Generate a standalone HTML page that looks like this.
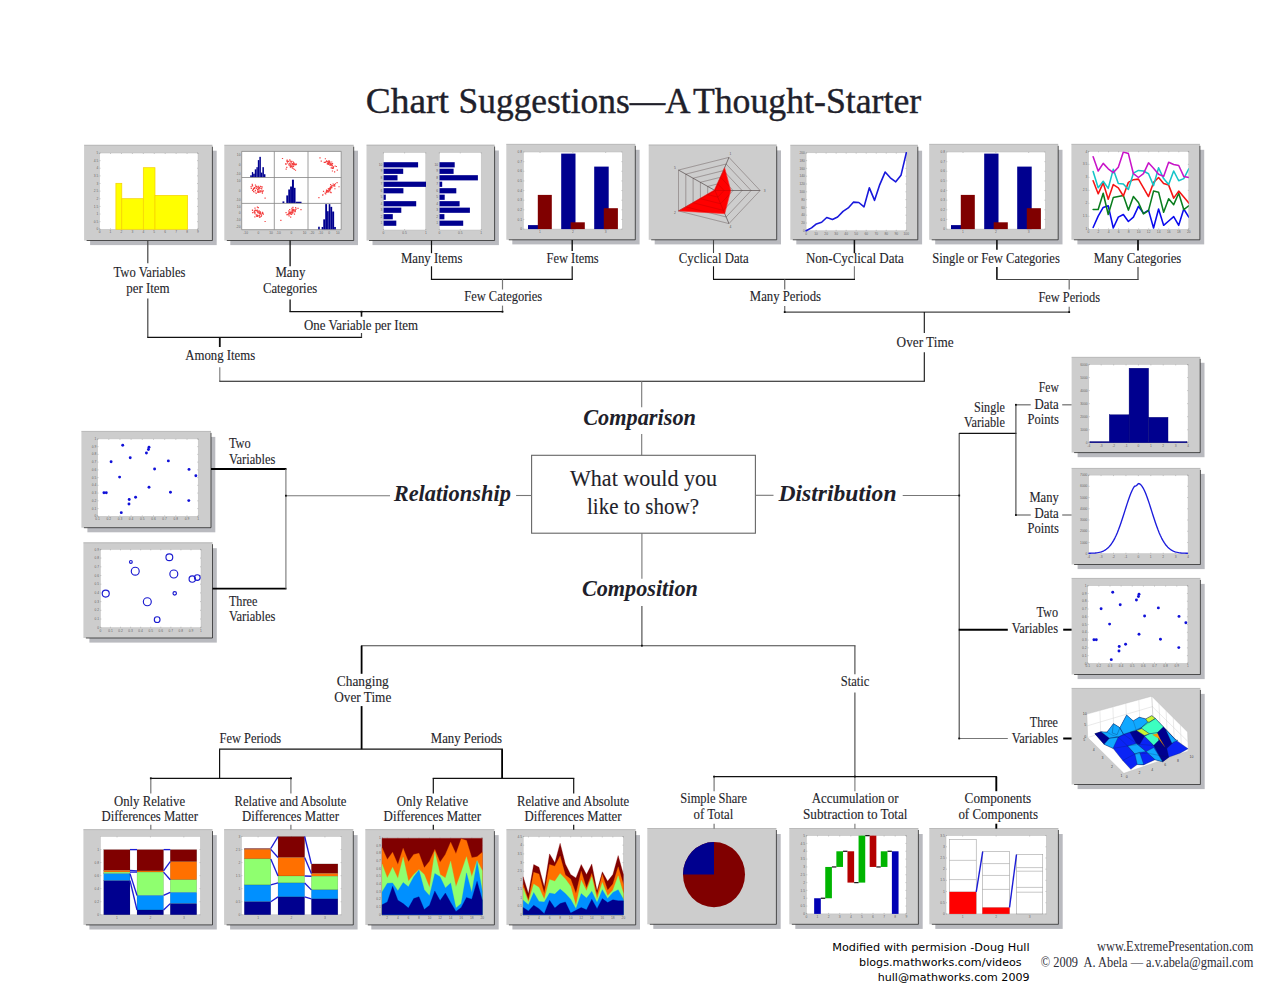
<!DOCTYPE html>
<html lang="en"><head><meta charset="utf-8"><title>Chart Suggestions—A Thought-Starter</title>
<style>html,body{margin:0;padding:0;background:#fff}body{width:1288px;height:995px;overflow:hidden}svg{display:block}text{white-space:pre}</style></head><body>
<svg width="1288" height="995" viewBox="0 0 1288 995">
<rect width="1288" height="995" fill="#fff"/>
<rect x="90.1" y="150.7" width="126.6" height="94.4" fill="#b9babf"/>
<rect x="84.1" y="145.2" width="128.3" height="95.3" fill="#cdcdcd"/>
<path d="M86.6 240.5H212.4V146.7" fill="none" stroke="#222" stroke-opacity=".75" stroke-width="1"/>
<path d="M84.1 145.2H212.4" fill="none" stroke="#8a8a8a" stroke-opacity=".6" stroke-width=".8"/>
<rect x="99.6" y="153" width="98.4" height="76.3" fill="#fff" stroke="#bdbdbd" stroke-width=".5"/>
<g font-family='"Liberation Sans", sans-serif' fill="#333" fill-opacity=".72">
<text x="99.6" y="233.2" text-anchor="middle" font-size="3.3">0</text>
<path d="M99.6 229.3v-1M99.6 153v1" stroke="#555" stroke-width=".4" stroke-opacity=".7"/>
<text x="110.53" y="233.2" text-anchor="middle" font-size="3.3">1</text>
<path d="M110.53 229.3v-1M110.53 153v1" stroke="#555" stroke-width=".4" stroke-opacity=".7"/>
<text x="121.47" y="233.2" text-anchor="middle" font-size="3.3">2</text>
<path d="M121.47 229.3v-1M121.47 153v1" stroke="#555" stroke-width=".4" stroke-opacity=".7"/>
<text x="132.4" y="233.2" text-anchor="middle" font-size="3.3">3</text>
<path d="M132.4 229.3v-1M132.4 153v1" stroke="#555" stroke-width=".4" stroke-opacity=".7"/>
<text x="143.33" y="233.2" text-anchor="middle" font-size="3.3">4</text>
<path d="M143.33 229.3v-1M143.33 153v1" stroke="#555" stroke-width=".4" stroke-opacity=".7"/>
<text x="154.27" y="233.2" text-anchor="middle" font-size="3.3">5</text>
<path d="M154.27 229.3v-1M154.27 153v1" stroke="#555" stroke-width=".4" stroke-opacity=".7"/>
<text x="165.2" y="233.2" text-anchor="middle" font-size="3.3">6</text>
<path d="M165.2 229.3v-1M165.2 153v1" stroke="#555" stroke-width=".4" stroke-opacity=".7"/>
<text x="176.13" y="233.2" text-anchor="middle" font-size="3.3">7</text>
<path d="M176.13 229.3v-1M176.13 153v1" stroke="#555" stroke-width=".4" stroke-opacity=".7"/>
<text x="187.07" y="233.2" text-anchor="middle" font-size="3.3">8</text>
<path d="M187.07 229.3v-1M187.07 153v1" stroke="#555" stroke-width=".4" stroke-opacity=".7"/>
<text x="198" y="233.2" text-anchor="middle" font-size="3.3">9</text>
<path d="M198 229.3v-1M198 153v1" stroke="#555" stroke-width=".4" stroke-opacity=".7"/>
<text x="98.4" y="230.4" text-anchor="end" font-size="3.3">0</text>
<path d="M99.6 229.3h1M198 229.3h-1" stroke="#555" stroke-width=".4" stroke-opacity=".7"/>
<text x="98.4" y="222.77" text-anchor="end" font-size="3.3">0.5</text>
<path d="M99.6 221.67h1M198 221.67h-1" stroke="#555" stroke-width=".4" stroke-opacity=".7"/>
<text x="98.4" y="215.14" text-anchor="end" font-size="3.3">1</text>
<path d="M99.6 214.04h1M198 214.04h-1" stroke="#555" stroke-width=".4" stroke-opacity=".7"/>
<text x="98.4" y="207.51" text-anchor="end" font-size="3.3">1.5</text>
<path d="M99.6 206.41h1M198 206.41h-1" stroke="#555" stroke-width=".4" stroke-opacity=".7"/>
<text x="98.4" y="199.88" text-anchor="end" font-size="3.3">2</text>
<path d="M99.6 198.78h1M198 198.78h-1" stroke="#555" stroke-width=".4" stroke-opacity=".7"/>
<text x="98.4" y="192.25" text-anchor="end" font-size="3.3">2.5</text>
<path d="M99.6 191.15h1M198 191.15h-1" stroke="#555" stroke-width=".4" stroke-opacity=".7"/>
<text x="98.4" y="184.62" text-anchor="end" font-size="3.3">3</text>
<path d="M99.6 183.52h1M198 183.52h-1" stroke="#555" stroke-width=".4" stroke-opacity=".7"/>
<text x="98.4" y="176.99" text-anchor="end" font-size="3.3">3.5</text>
<path d="M99.6 175.89h1M198 175.89h-1" stroke="#555" stroke-width=".4" stroke-opacity=".7"/>
<text x="98.4" y="169.36" text-anchor="end" font-size="3.3">4</text>
<path d="M99.6 168.26h1M198 168.26h-1" stroke="#555" stroke-width=".4" stroke-opacity=".7"/>
<text x="98.4" y="161.73" text-anchor="end" font-size="3.3">4.5</text>
<path d="M99.6 160.63h1M198 160.63h-1" stroke="#555" stroke-width=".4" stroke-opacity=".7"/>
<text x="98.4" y="154.1" text-anchor="end" font-size="3.3">5</text>
<path d="M99.6 153h1M198 153h-1" stroke="#555" stroke-width=".4" stroke-opacity=".7"/>
</g>
<rect x="115.9" y="183.3" width="5.9" height="46" fill="#ffff00" stroke="#f5cf00" stroke-width=".7"/>
<rect x="121.8" y="198.7" width="21.5" height="30.6" fill="#ffff00" stroke="#f5cf00" stroke-width=".7"/>
<rect x="143.3" y="167.7" width="11.7" height="61.6" fill="#ffff00" stroke="#f5cf00" stroke-width=".7"/>
<rect x="155" y="195.4" width="32.6" height="33.9" fill="#ffff00" stroke="#f5cf00" stroke-width=".7"/>
<rect x="230.3" y="150.7" width="127.7" height="94.4" fill="#b9babf"/>
<rect x="224.3" y="145.2" width="129.4" height="95.3" fill="#cdcdcd"/>
<path d="M226.8 240.5H353.7V146.7" fill="none" stroke="#222" stroke-opacity=".75" stroke-width="1"/>
<path d="M224.3 145.2H353.7" fill="none" stroke="#8a8a8a" stroke-opacity=".6" stroke-width=".8"/>
<rect x="241.7" y="151.4" width="99.5" height="78.3" fill="#fff"/>
<path d="M290.39 162.44h1.2v1.2h-1.2zM290.48 164.44h1.2v1.2h-1.2zM288.41 163.67h1.2v1.2h-1.2zM294.4 163.68h1.2v1.2h-1.2zM294.18 164.04h1.2v1.2h-1.2zM292.3 163.71h1.2v1.2h-1.2zM286.25 160.57h1.2v1.2h-1.2zM292.63 163.05h1.2v1.2h-1.2zM286.18 166.75h1.2v1.2h-1.2zM288.53 164.31h1.2v1.2h-1.2zM292.04 164.2h1.2v1.2h-1.2zM292.67 165.78h1.2v1.2h-1.2zM292.05 163.15h1.2v1.2h-1.2zM289.2 159.26h1.2v1.2h-1.2zM292.77 161.42h1.2v1.2h-1.2zM289.32 165.15h1.2v1.2h-1.2zM290.13 163.85h1.2v1.2h-1.2zM292.99 163.74h1.2v1.2h-1.2zM289.83 165.8h1.2v1.2h-1.2zM289.61 160.55h1.2v1.2h-1.2zM288.77 162.67h1.2v1.2h-1.2zM292.39 167.73h1.2v1.2h-1.2zM291.28 160.78h1.2v1.2h-1.2zM285.23 163.11h1.2v1.2h-1.2zM290.83 165.73h1.2v1.2h-1.2zM292.6 164.38h1.2v1.2h-1.2zM286.84 160.78h1.2v1.2h-1.2zM293.1 162.1h1.2v1.2h-1.2zM295.37 164.07h1.2v1.2h-1.2zM291.49 167.04h1.2v1.2h-1.2zM292.95 165.78h1.2v1.2h-1.2zM289.81 166.53h1.2v1.2h-1.2zM288.3 164.4h1.2v1.2h-1.2zM294.92 169.67h1.2v1.2h-1.2zM286.86 162.19h1.2v1.2h-1.2zM295.38 163.56h1.2v1.2h-1.2zM285.56 168.44h1.2v1.2h-1.2zM292.19 165.88h1.2v1.2h-1.2zM287.85 160.69h1.2v1.2h-1.2zM294.37 164.31h1.2v1.2h-1.2zM291.86 163h1.2v1.2h-1.2zM295.82 163.58h1.2v1.2h-1.2zM292.66 162.94h1.2v1.2h-1.2zM286.54 159.62h1.2v1.2h-1.2zM293.94 163.31h1.2v1.2h-1.2zM285.35 163.89h1.2v1.2h-1.2zM293.61 168.81h1.2v1.2h-1.2zM290.6 161.29h1.2v1.2h-1.2zM281.9 157.88h1.2v1.2h-1.2z" fill="#f01010" opacity=".8"/>
<path d="M324.79 158.15h1.2v1.2h-1.2zM330.26 164.39h1.2v1.2h-1.2zM329.59 162.4h1.2v1.2h-1.2zM328.99 161.09h1.2v1.2h-1.2zM326.7 163.27h1.2v1.2h-1.2zM331.7 164.69h1.2v1.2h-1.2zM326.06 160.13h1.2v1.2h-1.2zM332.94 166.26h1.2v1.2h-1.2zM324.59 161.7h1.2v1.2h-1.2zM328.2 163.73h1.2v1.2h-1.2zM332.76 167.39h1.2v1.2h-1.2zM332.34 167.69h1.2v1.2h-1.2zM326.33 160.91h1.2v1.2h-1.2zM331.95 163.07h1.2v1.2h-1.2zM329.65 163.49h1.2v1.2h-1.2zM329.09 162.32h1.2v1.2h-1.2zM328.12 162.49h1.2v1.2h-1.2zM330.32 164.1h1.2v1.2h-1.2zM330.88 163.18h1.2v1.2h-1.2zM334.54 165.4h1.2v1.2h-1.2zM327.38 163.5h1.2v1.2h-1.2zM328.6 161.37h1.2v1.2h-1.2zM327.65 162.04h1.2v1.2h-1.2zM334.03 171.19h1.2v1.2h-1.2zM325.34 161.26h1.2v1.2h-1.2zM329.81 163.36h1.2v1.2h-1.2zM327.37 161.35h1.2v1.2h-1.2zM329.47 164.79h1.2v1.2h-1.2zM335.77 165.91h1.2v1.2h-1.2zM327.01 162.76h1.2v1.2h-1.2zM327.98 163.13h1.2v1.2h-1.2zM320.63 160.58h1.2v1.2h-1.2zM331.6 167.14h1.2v1.2h-1.2zM328.44 161.23h1.2v1.2h-1.2zM331.15 161.38h1.2v1.2h-1.2zM323.65 161.71h1.2v1.2h-1.2zM327.64 161.54h1.2v1.2h-1.2zM331.84 170.42h1.2v1.2h-1.2zM331.83 167.83h1.2v1.2h-1.2zM330.64 167.37h1.2v1.2h-1.2zM329.16 161.06h1.2v1.2h-1.2zM328.2 162.71h1.2v1.2h-1.2zM330.98 164.11h1.2v1.2h-1.2zM328.38 159.99h1.2v1.2h-1.2zM331.72 165.37h1.2v1.2h-1.2zM336.7 169.48h1.2v1.2h-1.2zM331.32 165.13h1.2v1.2h-1.2zM329.03 162.02h1.2v1.2h-1.2zM319.4 157.33h1.2v1.2h-1.2z" fill="#f01010" opacity=".8"/>
<path d="M258.1 187.56h1.2v1.2h-1.2zM252.96 191.06h1.2v1.2h-1.2zM259.25 191.65h1.2v1.2h-1.2zM254.43 191.4h1.2v1.2h-1.2zM261.16 188.22h1.2v1.2h-1.2zM261.77 192.34h1.2v1.2h-1.2zM257.45 191.53h1.2v1.2h-1.2zM259.69 185.8h1.2v1.2h-1.2zM254.83 184.42h1.2v1.2h-1.2zM260.34 190.14h1.2v1.2h-1.2zM251.66 183.84h1.2v1.2h-1.2zM257.16 190.18h1.2v1.2h-1.2zM258.62 188.25h1.2v1.2h-1.2zM261.84 192.56h1.2v1.2h-1.2zM260.78 186.37h1.2v1.2h-1.2zM261.71 190.55h1.2v1.2h-1.2zM255.26 185.82h1.2v1.2h-1.2zM257.78 188.67h1.2v1.2h-1.2zM261.62 190.72h1.2v1.2h-1.2zM250.7 187.75h1.2v1.2h-1.2zM252 185.32h1.2v1.2h-1.2zM258.37 190.57h1.2v1.2h-1.2zM257.42 186.9h1.2v1.2h-1.2zM257.68 185.82h1.2v1.2h-1.2zM257.26 186.37h1.2v1.2h-1.2zM261.82 186.39h1.2v1.2h-1.2zM255.47 186.21h1.2v1.2h-1.2zM251.94 189.75h1.2v1.2h-1.2zM251.68 184.64h1.2v1.2h-1.2zM253.83 187.81h1.2v1.2h-1.2zM256.88 188.76h1.2v1.2h-1.2zM255.71 187.79h1.2v1.2h-1.2zM262.7 190.32h1.2v1.2h-1.2zM259 186.98h1.2v1.2h-1.2zM256.86 191.63h1.2v1.2h-1.2zM255.81 185.86h1.2v1.2h-1.2zM252.61 188.82h1.2v1.2h-1.2zM260.4 187.88h1.2v1.2h-1.2zM257.47 186.98h1.2v1.2h-1.2zM257.93 191.76h1.2v1.2h-1.2zM252.85 188.98h1.2v1.2h-1.2zM260.15 190.99h1.2v1.2h-1.2zM254.8 189.87h1.2v1.2h-1.2zM252.95 187.79h1.2v1.2h-1.2zM253.98 186.97h1.2v1.2h-1.2zM250.52 186.02h1.2v1.2h-1.2zM255.56 192.84h1.2v1.2h-1.2zM259.57 190.14h1.2v1.2h-1.2zM264.51 197.55h1.2v1.2h-1.2z" fill="#f01010" opacity=".8"/>
<path d="M322.09 194.48h1.2v1.2h-1.2zM329.49 189.07h1.2v1.2h-1.2zM330.93 186.16h1.2v1.2h-1.2zM330.59 187.07h1.2v1.2h-1.2zM332.55 185.26h1.2v1.2h-1.2zM329.96 191.46h1.2v1.2h-1.2zM331.27 185.01h1.2v1.2h-1.2zM327.77 190.19h1.2v1.2h-1.2zM334.33 188.13h1.2v1.2h-1.2zM330.02 183.97h1.2v1.2h-1.2zM325.92 189.46h1.2v1.2h-1.2zM334.18 185.52h1.2v1.2h-1.2zM330.29 186.31h1.2v1.2h-1.2zM325.98 190.7h1.2v1.2h-1.2zM329.5 186.94h1.2v1.2h-1.2zM328.54 189.24h1.2v1.2h-1.2zM325.66 191.36h1.2v1.2h-1.2zM331.26 187.02h1.2v1.2h-1.2zM326.14 191.85h1.2v1.2h-1.2zM336.47 181.97h1.2v1.2h-1.2zM330.51 191.95h1.2v1.2h-1.2zM330.46 186.9h1.2v1.2h-1.2zM333.58 184.99h1.2v1.2h-1.2zM328.44 188.12h1.2v1.2h-1.2zM322.93 190.79h1.2v1.2h-1.2zM329.59 189.41h1.2v1.2h-1.2zM332.53 183.38h1.2v1.2h-1.2zM324.52 192.59h1.2v1.2h-1.2zM329.49 188.01h1.2v1.2h-1.2zM327.47 191.21h1.2v1.2h-1.2zM334.86 183.17h1.2v1.2h-1.2zM325.13 193.32h1.2v1.2h-1.2zM333.64 184.03h1.2v1.2h-1.2zM333.98 184.1h1.2v1.2h-1.2zM326.08 190.06h1.2v1.2h-1.2zM322.3 194.14h1.2v1.2h-1.2zM328.47 188.1h1.2v1.2h-1.2zM326.5 190.43h1.2v1.2h-1.2zM329.98 187.37h1.2v1.2h-1.2zM330.51 187.31h1.2v1.2h-1.2zM327.69 188.16h1.2v1.2h-1.2zM328.78 190.13h1.2v1.2h-1.2zM326.8 190.03h1.2v1.2h-1.2zM328.32 188.8h1.2v1.2h-1.2zM328.64 188.57h1.2v1.2h-1.2zM328.25 191.19h1.2v1.2h-1.2zM329.88 186.32h1.2v1.2h-1.2zM329.91 188.35h1.2v1.2h-1.2zM318.31 197.01h1.2v1.2h-1.2zM338.42 186.14h1.2v1.2h-1.2z" fill="#f01010" opacity=".8"/>
<path d="M258.75 214.86h1.2v1.2h-1.2zM251.88 209.49h1.2v1.2h-1.2zM254.71 209.4h1.2v1.2h-1.2zM254.26 216.22h1.2v1.2h-1.2zM254.39 207.5h1.2v1.2h-1.2zM256.32 214.56h1.2v1.2h-1.2zM255.2 210.09h1.2v1.2h-1.2zM258.9 212.54h1.2v1.2h-1.2zM261.8 212.79h1.2v1.2h-1.2zM257.38 210.95h1.2v1.2h-1.2zM262.3 212.47h1.2v1.2h-1.2zM260.45 215.89h1.2v1.2h-1.2zM257.01 210.5h1.2v1.2h-1.2zM256.57 209.59h1.2v1.2h-1.2zM259.19 211.15h1.2v1.2h-1.2zM256.82 206.62h1.2v1.2h-1.2zM261.08 214.38h1.2v1.2h-1.2zM257.71 206.93h1.2v1.2h-1.2zM256.44 209.93h1.2v1.2h-1.2zM260.32 213.56h1.2v1.2h-1.2zM254.02 210.23h1.2v1.2h-1.2zM258.5 210.36h1.2v1.2h-1.2zM259.74 213.25h1.2v1.2h-1.2zM259.95 212.27h1.2v1.2h-1.2zM258.05 212.39h1.2v1.2h-1.2zM256.73 210.46h1.2v1.2h-1.2zM254.35 212.09h1.2v1.2h-1.2zM257.46 215.29h1.2v1.2h-1.2zM256.16 215.82h1.2v1.2h-1.2zM255.44 210.1h1.2v1.2h-1.2zM259.11 213.12h1.2v1.2h-1.2zM256.76 214.87h1.2v1.2h-1.2zM262.81 213.66h1.2v1.2h-1.2zM260.65 215.57h1.2v1.2h-1.2zM256.9 215.77h1.2v1.2h-1.2zM259.73 211.35h1.2v1.2h-1.2zM251.88 209.73h1.2v1.2h-1.2zM259.29 216.77h1.2v1.2h-1.2zM252.09 211.94h1.2v1.2h-1.2zM255.6 214.29h1.2v1.2h-1.2zM257.54 211.75h1.2v1.2h-1.2zM259.3 211.63h1.2v1.2h-1.2zM261.85 211.86h1.2v1.2h-1.2zM253.59 211.48h1.2v1.2h-1.2zM254.33 213.02h1.2v1.2h-1.2zM257.2 212.1h1.2v1.2h-1.2zM258.88 216.21h1.2v1.2h-1.2zM253.81 210.57h1.2v1.2h-1.2zM264.51 220.92h1.2v1.2h-1.2z" fill="#f01010" opacity=".8"/>
<path d="M290.01 212.57h1.2v1.2h-1.2zM290.41 213.06h1.2v1.2h-1.2zM292.65 209.78h1.2v1.2h-1.2zM290.34 212.96h1.2v1.2h-1.2zM290.08 216.51h1.2v1.2h-1.2zM287.72 213.46h1.2v1.2h-1.2zM286.18 214.17h1.2v1.2h-1.2zM291.03 213.68h1.2v1.2h-1.2zM289.86 212.67h1.2v1.2h-1.2zM291.95 209.81h1.2v1.2h-1.2zM290.49 213.16h1.2v1.2h-1.2zM290.17 212.06h1.2v1.2h-1.2zM292.75 209.82h1.2v1.2h-1.2zM288.48 215.28h1.2v1.2h-1.2zM289.5 213.61h1.2v1.2h-1.2zM287.33 213.96h1.2v1.2h-1.2zM289.15 212.43h1.2v1.2h-1.2zM292.13 211.38h1.2v1.2h-1.2zM297.42 207.86h1.2v1.2h-1.2zM293.83 209.42h1.2v1.2h-1.2zM293.87 213.52h1.2v1.2h-1.2zM288.39 212.68h1.2v1.2h-1.2zM292.36 206.69h1.2v1.2h-1.2zM291.54 208.96h1.2v1.2h-1.2zM292.84 208.68h1.2v1.2h-1.2zM292.09 210.98h1.2v1.2h-1.2zM292.09 212.51h1.2v1.2h-1.2zM294.06 211.15h1.2v1.2h-1.2zM291.33 207.71h1.2v1.2h-1.2zM289.94 212.07h1.2v1.2h-1.2zM294.01 209.46h1.2v1.2h-1.2zM288.23 212.77h1.2v1.2h-1.2zM292.3 209.42h1.2v1.2h-1.2zM288.33 210.23h1.2v1.2h-1.2zM295.49 208.53h1.2v1.2h-1.2zM291.38 211.89h1.2v1.2h-1.2zM294.75 210.2h1.2v1.2h-1.2zM292.57 211.21h1.2v1.2h-1.2zM288.56 211.8h1.2v1.2h-1.2zM294.51 209.2h1.2v1.2h-1.2zM288.61 211.61h1.2v1.2h-1.2zM290.45 211.26h1.2v1.2h-1.2zM295.06 206.96h1.2v1.2h-1.2zM289.07 208.88h1.2v1.2h-1.2zM290.61 210.38h1.2v1.2h-1.2zM288.7 212.97h1.2v1.2h-1.2zM285.46 212.01h1.2v1.2h-1.2zM294.6 211.13h1.2v1.2h-1.2zM280.27 219.83h1.2v1.2h-1.2zM300.38 208.97h1.2v1.2h-1.2z" fill="#f01010" opacity=".8"/>
<rect x="250.22" y="175.33" width="1.63" height="1.96" fill="#00008f"/>
<rect x="251.85" y="172.07" width="1.3" height="5.22" fill="#00008f"/>
<rect x="253.15" y="173.7" width="1.63" height="3.59" fill="#00008f"/>
<rect x="254.78" y="169.35" width="1.63" height="7.93" fill="#00008f"/>
<rect x="256.41" y="167.17" width="1.41" height="10.11" fill="#00008f"/>
<rect x="257.83" y="160.11" width="1.52" height="17.17" fill="#00008f"/>
<rect x="259.35" y="156.85" width="1.52" height="20.43" fill="#00008f"/>
<rect x="260.87" y="172.61" width="1.52" height="4.67" fill="#00008f"/>
<rect x="262.39" y="167.17" width="1.52" height="10.11" fill="#00008f"/>
<rect x="263.91" y="174.24" width="1.52" height="3.04" fill="#00008f"/>
<rect x="282.5" y="201.41" width="1.85" height="1.74" fill="#00008f"/>
<rect x="286.3" y="195.43" width="1.96" height="7.72" fill="#00008f"/>
<rect x="288.26" y="189.46" width="1.85" height="13.7" fill="#00008f"/>
<rect x="290.11" y="186.52" width="1.85" height="16.63" fill="#00008f"/>
<rect x="291.96" y="179.67" width="1.96" height="23.48" fill="#00008f"/>
<rect x="293.91" y="187.83" width="1.63" height="15.33" fill="#00008f"/>
<rect x="295.54" y="201.74" width="5.98" height="1.41" fill="#00008f"/>
<rect x="318.15" y="226.74" width="1.63" height="2.93" fill="#00008f"/>
<rect x="321.63" y="226.96" width="1.63" height="2.72" fill="#00008f"/>
<rect x="323.26" y="219.35" width="1.96" height="10.33" fill="#00008f"/>
<rect x="325.22" y="204.13" width="1.85" height="25.54" fill="#00008f"/>
<rect x="327.07" y="211.2" width="1.63" height="18.48" fill="#00008f"/>
<rect x="328.7" y="204.13" width="1.63" height="25.54" fill="#00008f"/>
<rect x="330.33" y="206.85" width="1.85" height="22.83" fill="#00008f"/>
<rect x="332.17" y="211.52" width="1.96" height="18.15" fill="#00008f"/>
<rect x="334.13" y="226.96" width="1.74" height="2.72" fill="#00008f"/>
<line x1="241.7" y1="151.4" x2="241.7" y2="229.7" stroke="#858585" stroke-width="0.8"/>
<line x1="274.3" y1="151.4" x2="274.3" y2="229.7" stroke="#858585" stroke-width="0.8"/>
<line x1="308" y1="151.4" x2="308" y2="229.7" stroke="#858585" stroke-width="0.8"/>
<line x1="341.2" y1="151.4" x2="341.2" y2="229.7" stroke="#858585" stroke-width="0.8"/>
<line x1="241.7" y1="151.4" x2="341.2" y2="151.4" stroke="#858585" stroke-width="0.8"/>
<line x1="241.7" y1="177.5" x2="341.2" y2="177.5" stroke="#858585" stroke-width="0.8"/>
<line x1="241.7" y1="203.4" x2="341.2" y2="203.4" stroke="#858585" stroke-width="0.8"/>
<line x1="241.7" y1="229.7" x2="341.2" y2="229.7" stroke="#858585" stroke-width="0.8"/>
<g font-family='"Liberation Sans", sans-serif' fill="#333" fill-opacity=".72">
<text x="240.5" y="155.63" text-anchor="end" font-size="3.3">10</text>
<text x="240.5" y="165.55" text-anchor="end" font-size="3.3">0</text>
<text x="240.5" y="175.47" text-anchor="end" font-size="3.3">-10</text>
<text x="245.61" y="233.6" text-anchor="middle" font-size="3.3">-10</text>
<text x="258.33" y="233.6" text-anchor="middle" font-size="3.3">0</text>
<text x="271.04" y="233.6" text-anchor="middle" font-size="3.3">10</text>
<text x="240.5" y="181.71" text-anchor="end" font-size="3.3">10</text>
<text x="240.5" y="191.55" text-anchor="end" font-size="3.3">0</text>
<text x="240.5" y="201.39" text-anchor="end" font-size="3.3">-10</text>
<text x="278.34" y="233.6" text-anchor="middle" font-size="3.3">-10</text>
<text x="291.49" y="233.6" text-anchor="middle" font-size="3.3">0</text>
<text x="304.63" y="233.6" text-anchor="middle" font-size="3.3">10</text>
<text x="240.5" y="207.66" text-anchor="end" font-size="3.3">10</text>
<text x="240.5" y="214.32" text-anchor="end" font-size="3.3">0</text>
<text x="240.5" y="220.98" text-anchor="end" font-size="3.3">-10</text>
<text x="240.5" y="227.64" text-anchor="end" font-size="3.3">-20</text>
<text x="311.98" y="233.6" text-anchor="middle" font-size="3.3">-20</text>
<text x="320.62" y="233.6" text-anchor="middle" font-size="3.3">-10</text>
<text x="329.25" y="233.6" text-anchor="middle" font-size="3.3">0</text>
<text x="337.88" y="233.6" text-anchor="middle" font-size="3.3">10</text>
</g>
<rect x="372.5" y="150.5" width="126.4" height="94.6" fill="#b9babf"/>
<rect x="366.5" y="145" width="128.1" height="95.5" fill="#cdcdcd"/>
<path d="M369 240.5H494.6V146.5" fill="none" stroke="#222" stroke-opacity=".75" stroke-width="1"/>
<path d="M366.5 145H494.6" fill="none" stroke="#8a8a8a" stroke-opacity=".6" stroke-width=".8"/>
<rect x="383.4" y="152.5" width="42.4" height="77.5" fill="#fff" stroke="#bdbdbd" stroke-width=".5"/>
<g font-family='"Liberation Sans", sans-serif' fill="#333" fill-opacity=".72">
<text x="383.4" y="233.9" text-anchor="middle" font-size="3.3">0</text>
<path d="M383.4 230v-1M383.4 152.5v1" stroke="#555" stroke-width=".4" stroke-opacity=".7"/>
<text x="404.6" y="233.9" text-anchor="middle" font-size="3.3">0.5</text>
<path d="M404.6 230v-1M404.6 152.5v1" stroke="#555" stroke-width=".4" stroke-opacity=".7"/>
<text x="425.8" y="233.9" text-anchor="middle" font-size="3.3">1</text>
<path d="M425.8 230v-1M425.8 152.5v1" stroke="#555" stroke-width=".4" stroke-opacity=".7"/>
</g>
<rect x="439.3" y="152.5" width="41.9" height="77.5" fill="#fff" stroke="#bdbdbd" stroke-width=".5"/>
<g font-family='"Liberation Sans", sans-serif' fill="#333" fill-opacity=".72">
<text x="439.3" y="233.9" text-anchor="middle" font-size="3.3">0</text>
<path d="M439.3 230v-1M439.3 152.5v1" stroke="#555" stroke-width=".4" stroke-opacity=".7"/>
<text x="460.25" y="233.9" text-anchor="middle" font-size="3.3">0.5</text>
<path d="M460.25 230v-1M460.25 152.5v1" stroke="#555" stroke-width=".4" stroke-opacity=".7"/>
<text x="481.2" y="233.9" text-anchor="middle" font-size="3.3">1</text>
<path d="M481.2 230v-1M481.2 152.5v1" stroke="#555" stroke-width=".4" stroke-opacity=".7"/>
</g>
<rect x="383.6" y="162.2" width="34.5" height="5.2" fill="#00008f"/>
<rect x="439.5" y="162.2" width="15.2" height="5.2" fill="#00008f"/>
<text x="382.3" y="165.9" text-anchor="end" font-size="3.3" font-family="Liberation Sans, sans-serif" fill="#3a3a3a" fill-opacity=".8">10</text>
<text x="438.2" y="165.9" text-anchor="end" font-size="3.3" font-family="Liberation Sans, sans-serif" fill="#3a3a3a" fill-opacity=".8">10</text>
<rect x="383.6" y="168.69" width="19.6" height="5.2" fill="#00008f"/>
<rect x="439.5" y="168.69" width="14.1" height="5.2" fill="#00008f"/>
<text x="382.3" y="172.39" text-anchor="end" font-size="3.3" font-family="Liberation Sans, sans-serif" fill="#3a3a3a" fill-opacity=".8">9</text>
<text x="438.2" y="172.39" text-anchor="end" font-size="3.3" font-family="Liberation Sans, sans-serif" fill="#3a3a3a" fill-opacity=".8">9</text>
<rect x="383.6" y="175.18" width="13.9" height="5.2" fill="#00008f"/>
<rect x="439.5" y="175.18" width="38.4" height="5.2" fill="#00008f"/>
<text x="382.3" y="178.88" text-anchor="end" font-size="3.3" font-family="Liberation Sans, sans-serif" fill="#3a3a3a" fill-opacity=".8">8</text>
<text x="438.2" y="178.88" text-anchor="end" font-size="3.3" font-family="Liberation Sans, sans-serif" fill="#3a3a3a" fill-opacity=".8">8</text>
<rect x="383.6" y="181.67" width="42.4" height="5.2" fill="#00008f"/>
<rect x="439.5" y="181.67" width="2.7" height="5.2" fill="#00008f"/>
<text x="382.3" y="185.37" text-anchor="end" font-size="3.3" font-family="Liberation Sans, sans-serif" fill="#3a3a3a" fill-opacity=".8">7</text>
<text x="438.2" y="185.37" text-anchor="end" font-size="3.3" font-family="Liberation Sans, sans-serif" fill="#3a3a3a" fill-opacity=".8">7</text>
<rect x="383.6" y="188.16" width="19.8" height="5.2" fill="#00008f"/>
<rect x="439.5" y="188.16" width="16.8" height="5.2" fill="#00008f"/>
<text x="382.3" y="191.86" text-anchor="end" font-size="3.3" font-family="Liberation Sans, sans-serif" fill="#3a3a3a" fill-opacity=".8">6</text>
<text x="438.2" y="191.86" text-anchor="end" font-size="3.3" font-family="Liberation Sans, sans-serif" fill="#3a3a3a" fill-opacity=".8">6</text>
<rect x="383.6" y="194.65" width="2.2" height="5.2" fill="#00008f"/>
<rect x="439.5" y="194.65" width="5.2" height="5.2" fill="#00008f"/>
<text x="382.3" y="198.35" text-anchor="end" font-size="3.3" font-family="Liberation Sans, sans-serif" fill="#3a3a3a" fill-opacity=".8">5</text>
<text x="438.2" y="198.35" text-anchor="end" font-size="3.3" font-family="Liberation Sans, sans-serif" fill="#3a3a3a" fill-opacity=".8">5</text>
<rect x="383.6" y="201.14" width="32.6" height="5.2" fill="#00008f"/>
<rect x="439.5" y="201.14" width="20.1" height="5.2" fill="#00008f"/>
<text x="382.3" y="204.84" text-anchor="end" font-size="3.3" font-family="Liberation Sans, sans-serif" fill="#3a3a3a" fill-opacity=".8">4</text>
<text x="438.2" y="204.84" text-anchor="end" font-size="3.3" font-family="Liberation Sans, sans-serif" fill="#3a3a3a" fill-opacity=".8">4</text>
<rect x="383.6" y="207.63" width="17.7" height="5.2" fill="#00008f"/>
<rect x="439.5" y="207.63" width="30.4" height="5.2" fill="#00008f"/>
<text x="382.3" y="211.33" text-anchor="end" font-size="3.3" font-family="Liberation Sans, sans-serif" fill="#3a3a3a" fill-opacity=".8">3</text>
<text x="438.2" y="211.33" text-anchor="end" font-size="3.3" font-family="Liberation Sans, sans-serif" fill="#3a3a3a" fill-opacity=".8">3</text>
<rect x="383.6" y="214.12" width="9.2" height="5.2" fill="#00008f"/>
<rect x="439.5" y="214.12" width="4.9" height="5.2" fill="#00008f"/>
<text x="382.3" y="217.82" text-anchor="end" font-size="3.3" font-family="Liberation Sans, sans-serif" fill="#3a3a3a" fill-opacity=".8">2</text>
<text x="438.2" y="217.82" text-anchor="end" font-size="3.3" font-family="Liberation Sans, sans-serif" fill="#3a3a3a" fill-opacity=".8">2</text>
<rect x="383.6" y="220.61" width="12.7" height="5.2" fill="#00008f"/>
<rect x="439.5" y="220.61" width="23.7" height="5.2" fill="#00008f"/>
<text x="382.3" y="224.31" text-anchor="end" font-size="3.3" font-family="Liberation Sans, sans-serif" fill="#3a3a3a" fill-opacity=".8">1</text>
<text x="438.2" y="224.31" text-anchor="end" font-size="3.3" font-family="Liberation Sans, sans-serif" fill="#3a3a3a" fill-opacity=".8">1</text>
<rect x="512.3" y="149.8" width="127.3" height="94.6" fill="#b9babf"/>
<rect x="506.3" y="144.3" width="129" height="95.5" fill="#cdcdcd"/>
<path d="M508.8 239.8H635.3V145.8" fill="none" stroke="#222" stroke-opacity=".75" stroke-width="1"/>
<path d="M506.3 144.3H635.3" fill="none" stroke="#8a8a8a" stroke-opacity=".6" stroke-width=".8"/>
<rect x="523.4" y="152" width="98.9" height="77.1" fill="#fff" stroke="#bdbdbd" stroke-width=".5"/>
<g font-family='"Liberation Sans", sans-serif' fill="#333" fill-opacity=".72">
<text x="540.02" y="233" text-anchor="middle" font-size="3.3">1</text>
<path d="M540.02 229.1v-1M540.02 152v1" stroke="#555" stroke-width=".4" stroke-opacity=".7"/>
<text x="572.85" y="233" text-anchor="middle" font-size="3.3">2</text>
<path d="M572.85 229.1v-1M572.85 152v1" stroke="#555" stroke-width=".4" stroke-opacity=".7"/>
<text x="605.68" y="233" text-anchor="middle" font-size="3.3">3</text>
<path d="M605.68 229.1v-1M605.68 152v1" stroke="#555" stroke-width=".4" stroke-opacity=".7"/>
<text x="522.2" y="230.2" text-anchor="end" font-size="3.3">0</text>
<path d="M523.4 229.1h1M622.3 229.1h-1" stroke="#555" stroke-width=".4" stroke-opacity=".7"/>
<text x="522.2" y="220.56" text-anchor="end" font-size="3.3">0.1</text>
<path d="M523.4 219.46h1M622.3 219.46h-1" stroke="#555" stroke-width=".4" stroke-opacity=".7"/>
<text x="522.2" y="210.92" text-anchor="end" font-size="3.3">0.2</text>
<path d="M523.4 209.82h1M622.3 209.82h-1" stroke="#555" stroke-width=".4" stroke-opacity=".7"/>
<text x="522.2" y="201.29" text-anchor="end" font-size="3.3">0.3</text>
<path d="M523.4 200.19h1M622.3 200.19h-1" stroke="#555" stroke-width=".4" stroke-opacity=".7"/>
<text x="522.2" y="191.65" text-anchor="end" font-size="3.3">0.4</text>
<path d="M523.4 190.55h1M622.3 190.55h-1" stroke="#555" stroke-width=".4" stroke-opacity=".7"/>
<text x="522.2" y="182.01" text-anchor="end" font-size="3.3">0.5</text>
<path d="M523.4 180.91h1M622.3 180.91h-1" stroke="#555" stroke-width=".4" stroke-opacity=".7"/>
<text x="522.2" y="172.38" text-anchor="end" font-size="3.3">0.6</text>
<path d="M523.4 171.28h1M622.3 171.28h-1" stroke="#555" stroke-width=".4" stroke-opacity=".7"/>
<text x="522.2" y="162.74" text-anchor="end" font-size="3.3">0.7</text>
<path d="M523.4 161.64h1M622.3 161.64h-1" stroke="#555" stroke-width=".4" stroke-opacity=".7"/>
<text x="522.2" y="153.1" text-anchor="end" font-size="3.3">0.8</text>
<path d="M523.4 152h1M622.3 152h-1" stroke="#555" stroke-width=".4" stroke-opacity=".7"/>
</g>
<rect x="528" y="225.1" width="10" height="4" fill="#00008f"/>
<rect x="561.2" y="153.6" width="14.3" height="75.5" fill="#00008f"/>
<rect x="594.2" y="166.6" width="14.5" height="62.5" fill="#00008f"/>
<rect x="537.8" y="194.9" width="14" height="34.2" fill="#800000"/>
<rect x="570.7" y="222.3" width="14.1" height="6.8" fill="#800000"/>
<rect x="603.8" y="208.2" width="14.1" height="20.9" fill="#800000"/>
<rect x="654.7" y="150.4" width="126.3" height="94" fill="#b9babf"/>
<rect x="648.7" y="144.9" width="128" height="94.9" fill="#cdcdcd"/>
<path d="M651.2 239.8H776.7V146.4" fill="none" stroke="#222" stroke-opacity=".75" stroke-width="1"/>
<path d="M648.7 144.9H776.7" fill="none" stroke="#8a8a8a" stroke-opacity=".6" stroke-width=".8"/>
<polygon points="724.02,190.5 717.79,183.88 707.7,186.41 707.7,194.59 717.79,197.12" fill="none" stroke="#555" stroke-width=".4" opacity=".65"/>
<polygon points="733.04,190.5 720.57,177.26 700.41,182.32 700.41,198.68 720.57,203.74" fill="none" stroke="#555" stroke-width=".4" opacity=".65"/>
<polygon points="742.06,190.5 723.36,170.64 693.11,178.23 693.11,202.77 723.36,210.36" fill="none" stroke="#555" stroke-width=".4" opacity=".65"/>
<polygon points="751.08,190.5 726.15,164.02 685.81,174.14 685.81,206.86 726.15,216.98" fill="none" stroke="#555" stroke-width=".4" opacity=".65"/>
<polygon points="760.1,190.5 728.94,157.4 678.51,170.05 678.51,210.95 728.94,223.6" fill="none" stroke="#555" stroke-width=".4" opacity=".65"/>
<line x1="715" y1="190.5" x2="760.1" y2="190.5" stroke="#444" stroke-width="0.5"/>
<line x1="715" y1="190.5" x2="728.94" y2="157.4" stroke="#444" stroke-width="0.5"/>
<line x1="715" y1="190.5" x2="678.51" y2="170.05" stroke="#444" stroke-width="0.5"/>
<line x1="715" y1="190.5" x2="678.51" y2="210.95" stroke="#444" stroke-width="0.5"/>
<line x1="715" y1="190.5" x2="728.94" y2="223.6" stroke="#444" stroke-width="0.5"/>
<polygon points="730.78,190.5 724.62,167.66 714.27,190.09 678.51,210.95 724.76,213.67" fill="#ff0000" stroke="#ff3030" stroke-width=".6"/>
<g opacity=".28">
<polygon points="724.02,190.5 717.79,183.88 707.7,186.41 707.7,194.59 717.79,197.12" fill="none" stroke="#300" stroke-width=".45"/>
<polygon points="733.04,190.5 720.57,177.26 700.41,182.32 700.41,198.68 720.57,203.74" fill="none" stroke="#300" stroke-width=".45"/>
<polygon points="742.06,190.5 723.36,170.64 693.11,178.23 693.11,202.77 723.36,210.36" fill="none" stroke="#300" stroke-width=".45"/>
<polygon points="751.08,190.5 726.15,164.02 685.81,174.14 685.81,206.86 726.15,216.98" fill="none" stroke="#300" stroke-width=".45"/>
<polygon points="760.1,190.5 728.94,157.4 678.51,170.05 678.51,210.95 728.94,223.6" fill="none" stroke="#300" stroke-width=".45"/>
<line x1="715" y1="190.5" x2="760.1" y2="190.5" stroke="#300" stroke-width="0.5"/>
<line x1="715" y1="190.5" x2="728.94" y2="157.4" stroke="#300" stroke-width="0.5"/>
<line x1="715" y1="190.5" x2="678.51" y2="170.05" stroke="#300" stroke-width="0.5"/>
<line x1="715" y1="190.5" x2="678.51" y2="210.95" stroke="#300" stroke-width="0.5"/>
<line x1="715" y1="190.5" x2="728.94" y2="223.6" stroke="#300" stroke-width="0.5"/>
</g>
<text x="764.61" y="191.6" text-anchor="middle" font-size="3.3" font-family="Liberation Sans, sans-serif" fill="#333" fill-opacity=".8">3</text>
<text x="730.33" y="155.19" text-anchor="middle" font-size="3.3" font-family="Liberation Sans, sans-serif" fill="#333" fill-opacity=".8">1</text>
<text x="674.86" y="169.1" text-anchor="middle" font-size="3.3" font-family="Liberation Sans, sans-serif" fill="#333" fill-opacity=".8">5</text>
<text x="674.86" y="214.1" text-anchor="middle" font-size="3.3" font-family="Liberation Sans, sans-serif" fill="#333" fill-opacity=".8">2</text>
<text x="730.33" y="228.01" text-anchor="middle" font-size="3.3" font-family="Liberation Sans, sans-serif" fill="#333" fill-opacity=".8">4</text>
<rect x="796.3" y="150.7" width="125.8" height="93.7" fill="#b9babf"/>
<rect x="790.3" y="145.2" width="127.5" height="94.6" fill="#cdcdcd"/>
<path d="M792.8 239.8H917.8V146.7" fill="none" stroke="#222" stroke-opacity=".75" stroke-width="1"/>
<path d="M790.3 145.2H917.8" fill="none" stroke="#8a8a8a" stroke-opacity=".6" stroke-width=".8"/>
<rect x="806.1" y="152.8" width="100.2" height="78" fill="#fff" stroke="#bdbdbd" stroke-width=".5"/>
<g font-family='"Liberation Sans", sans-serif' fill="#333" fill-opacity=".72">
<text x="806.1" y="234.7" text-anchor="middle" font-size="3.3">0</text>
<path d="M806.1 230.8v-1M806.1 152.8v1" stroke="#555" stroke-width=".4" stroke-opacity=".7"/>
<text x="816.12" y="234.7" text-anchor="middle" font-size="3.3">10</text>
<path d="M816.12 230.8v-1M816.12 152.8v1" stroke="#555" stroke-width=".4" stroke-opacity=".7"/>
<text x="826.14" y="234.7" text-anchor="middle" font-size="3.3">20</text>
<path d="M826.14 230.8v-1M826.14 152.8v1" stroke="#555" stroke-width=".4" stroke-opacity=".7"/>
<text x="836.16" y="234.7" text-anchor="middle" font-size="3.3">30</text>
<path d="M836.16 230.8v-1M836.16 152.8v1" stroke="#555" stroke-width=".4" stroke-opacity=".7"/>
<text x="846.18" y="234.7" text-anchor="middle" font-size="3.3">40</text>
<path d="M846.18 230.8v-1M846.18 152.8v1" stroke="#555" stroke-width=".4" stroke-opacity=".7"/>
<text x="856.2" y="234.7" text-anchor="middle" font-size="3.3">50</text>
<path d="M856.2 230.8v-1M856.2 152.8v1" stroke="#555" stroke-width=".4" stroke-opacity=".7"/>
<text x="866.22" y="234.7" text-anchor="middle" font-size="3.3">60</text>
<path d="M866.22 230.8v-1M866.22 152.8v1" stroke="#555" stroke-width=".4" stroke-opacity=".7"/>
<text x="876.24" y="234.7" text-anchor="middle" font-size="3.3">70</text>
<path d="M876.24 230.8v-1M876.24 152.8v1" stroke="#555" stroke-width=".4" stroke-opacity=".7"/>
<text x="886.26" y="234.7" text-anchor="middle" font-size="3.3">80</text>
<path d="M886.26 230.8v-1M886.26 152.8v1" stroke="#555" stroke-width=".4" stroke-opacity=".7"/>
<text x="896.28" y="234.7" text-anchor="middle" font-size="3.3">90</text>
<path d="M896.28 230.8v-1M896.28 152.8v1" stroke="#555" stroke-width=".4" stroke-opacity=".7"/>
<text x="906.3" y="234.7" text-anchor="middle" font-size="3.3">100</text>
<path d="M906.3 230.8v-1M906.3 152.8v1" stroke="#555" stroke-width=".4" stroke-opacity=".7"/>
<text x="804.9" y="231.9" text-anchor="end" font-size="3.3">0</text>
<path d="M806.1 230.8h1M906.3 230.8h-1" stroke="#555" stroke-width=".4" stroke-opacity=".7"/>
<text x="804.9" y="224.1" text-anchor="end" font-size="3.3">20</text>
<path d="M806.1 223h1M906.3 223h-1" stroke="#555" stroke-width=".4" stroke-opacity=".7"/>
<text x="804.9" y="216.3" text-anchor="end" font-size="3.3">40</text>
<path d="M806.1 215.2h1M906.3 215.2h-1" stroke="#555" stroke-width=".4" stroke-opacity=".7"/>
<text x="804.9" y="208.5" text-anchor="end" font-size="3.3">60</text>
<path d="M806.1 207.4h1M906.3 207.4h-1" stroke="#555" stroke-width=".4" stroke-opacity=".7"/>
<text x="804.9" y="200.7" text-anchor="end" font-size="3.3">80</text>
<path d="M806.1 199.6h1M906.3 199.6h-1" stroke="#555" stroke-width=".4" stroke-opacity=".7"/>
<text x="804.9" y="192.9" text-anchor="end" font-size="3.3">100</text>
<path d="M806.1 191.8h1M906.3 191.8h-1" stroke="#555" stroke-width=".4" stroke-opacity=".7"/>
<text x="804.9" y="185.1" text-anchor="end" font-size="3.3">120</text>
<path d="M806.1 184h1M906.3 184h-1" stroke="#555" stroke-width=".4" stroke-opacity=".7"/>
<text x="804.9" y="177.3" text-anchor="end" font-size="3.3">140</text>
<path d="M806.1 176.2h1M906.3 176.2h-1" stroke="#555" stroke-width=".4" stroke-opacity=".7"/>
<text x="804.9" y="169.5" text-anchor="end" font-size="3.3">160</text>
<path d="M806.1 168.4h1M906.3 168.4h-1" stroke="#555" stroke-width=".4" stroke-opacity=".7"/>
<text x="804.9" y="161.7" text-anchor="end" font-size="3.3">180</text>
<path d="M806.1 160.6h1M906.3 160.6h-1" stroke="#555" stroke-width=".4" stroke-opacity=".7"/>
<text x="804.9" y="153.9" text-anchor="end" font-size="3.3">200</text>
<path d="M806.1 152.8h1M906.3 152.8h-1" stroke="#555" stroke-width=".4" stroke-opacity=".7"/>
</g>
<polyline points="806.09,230.76 811.52,227.83 816.41,223.91 821.63,222.28 826.74,217.5 832.5,219.57 837.61,216.96 843.04,211.41 848.26,207.93 853.37,202.17 858.8,202.5 864.02,206.85 869.35,187.83 874.57,200.33 879.78,184.57 885.11,172.07 890.33,177.83 895.76,181.85 900.98,175.33 906.3,152.83" fill="none" stroke="#1818dc" stroke-width="1.6" stroke-linejoin="round" stroke-linecap="round"/>
<rect x="935.2" y="149.8" width="127.3" height="94.6" fill="#b9babf"/>
<rect x="929.2" y="144.3" width="129" height="95.5" fill="#cdcdcd"/>
<path d="M931.7 239.8H1058.2V145.8" fill="none" stroke="#222" stroke-opacity=".75" stroke-width="1"/>
<path d="M929.2 144.3H1058.2" fill="none" stroke="#8a8a8a" stroke-opacity=".6" stroke-width=".8"/>
<rect x="946.4" y="152" width="98.9" height="77.1" fill="#fff" stroke="#bdbdbd" stroke-width=".5"/>
<g font-family='"Liberation Sans", sans-serif' fill="#333" fill-opacity=".72">
<text x="963.02" y="233" text-anchor="middle" font-size="3.3">1</text>
<path d="M963.02 229.1v-1M963.02 152v1" stroke="#555" stroke-width=".4" stroke-opacity=".7"/>
<text x="995.85" y="233" text-anchor="middle" font-size="3.3">2</text>
<path d="M995.85 229.1v-1M995.85 152v1" stroke="#555" stroke-width=".4" stroke-opacity=".7"/>
<text x="1028.68" y="233" text-anchor="middle" font-size="3.3">3</text>
<path d="M1028.68 229.1v-1M1028.68 152v1" stroke="#555" stroke-width=".4" stroke-opacity=".7"/>
<text x="945.2" y="230.2" text-anchor="end" font-size="3.3">0</text>
<path d="M946.4 229.1h1M1045.3 229.1h-1" stroke="#555" stroke-width=".4" stroke-opacity=".7"/>
<text x="945.2" y="220.56" text-anchor="end" font-size="3.3">0.1</text>
<path d="M946.4 219.46h1M1045.3 219.46h-1" stroke="#555" stroke-width=".4" stroke-opacity=".7"/>
<text x="945.2" y="210.92" text-anchor="end" font-size="3.3">0.2</text>
<path d="M946.4 209.82h1M1045.3 209.82h-1" stroke="#555" stroke-width=".4" stroke-opacity=".7"/>
<text x="945.2" y="201.29" text-anchor="end" font-size="3.3">0.3</text>
<path d="M946.4 200.19h1M1045.3 200.19h-1" stroke="#555" stroke-width=".4" stroke-opacity=".7"/>
<text x="945.2" y="191.65" text-anchor="end" font-size="3.3">0.4</text>
<path d="M946.4 190.55h1M1045.3 190.55h-1" stroke="#555" stroke-width=".4" stroke-opacity=".7"/>
<text x="945.2" y="182.01" text-anchor="end" font-size="3.3">0.5</text>
<path d="M946.4 180.91h1M1045.3 180.91h-1" stroke="#555" stroke-width=".4" stroke-opacity=".7"/>
<text x="945.2" y="172.38" text-anchor="end" font-size="3.3">0.6</text>
<path d="M946.4 171.28h1M1045.3 171.28h-1" stroke="#555" stroke-width=".4" stroke-opacity=".7"/>
<text x="945.2" y="162.74" text-anchor="end" font-size="3.3">0.7</text>
<path d="M946.4 161.64h1M1045.3 161.64h-1" stroke="#555" stroke-width=".4" stroke-opacity=".7"/>
<text x="945.2" y="153.1" text-anchor="end" font-size="3.3">0.8</text>
<path d="M946.4 152h1M1045.3 152h-1" stroke="#555" stroke-width=".4" stroke-opacity=".7"/>
</g>
<rect x="951" y="225.1" width="10" height="4" fill="#00008f"/>
<rect x="984.2" y="153.6" width="14.3" height="75.5" fill="#00008f"/>
<rect x="1017.2" y="166.6" width="14.5" height="62.5" fill="#00008f"/>
<rect x="960.8" y="194.9" width="14" height="34.2" fill="#800000"/>
<rect x="993.7" y="222.3" width="14.1" height="6.8" fill="#800000"/>
<rect x="1026.8" y="208.2" width="14.1" height="20.9" fill="#800000"/>
<rect x="1077.4" y="149.8" width="126.8" height="94.6" fill="#b9babf"/>
<rect x="1071.4" y="144.3" width="128.5" height="95.5" fill="#cdcdcd"/>
<path d="M1073.9 239.8H1199.9V145.8" fill="none" stroke="#222" stroke-opacity=".75" stroke-width="1"/>
<path d="M1071.4 144.3H1199.9" fill="none" stroke="#8a8a8a" stroke-opacity=".6" stroke-width=".8"/>
<rect x="1088.5" y="151.4" width="100.3" height="77.9" fill="#fff" stroke="#bdbdbd" stroke-width=".5"/>
<g font-family='"Liberation Sans", sans-serif' fill="#333" fill-opacity=".72">
<text x="1088.5" y="233.2" text-anchor="middle" font-size="3.3">0</text>
<path d="M1088.5 229.3v-1M1088.5 151.4v1" stroke="#555" stroke-width=".4" stroke-opacity=".7"/>
<text x="1098.53" y="233.2" text-anchor="middle" font-size="3.3">2</text>
<path d="M1098.53 229.3v-1M1098.53 151.4v1" stroke="#555" stroke-width=".4" stroke-opacity=".7"/>
<text x="1108.56" y="233.2" text-anchor="middle" font-size="3.3">4</text>
<path d="M1108.56 229.3v-1M1108.56 151.4v1" stroke="#555" stroke-width=".4" stroke-opacity=".7"/>
<text x="1118.59" y="233.2" text-anchor="middle" font-size="3.3">6</text>
<path d="M1118.59 229.3v-1M1118.59 151.4v1" stroke="#555" stroke-width=".4" stroke-opacity=".7"/>
<text x="1128.62" y="233.2" text-anchor="middle" font-size="3.3">8</text>
<path d="M1128.62 229.3v-1M1128.62 151.4v1" stroke="#555" stroke-width=".4" stroke-opacity=".7"/>
<text x="1138.65" y="233.2" text-anchor="middle" font-size="3.3">10</text>
<path d="M1138.65 229.3v-1M1138.65 151.4v1" stroke="#555" stroke-width=".4" stroke-opacity=".7"/>
<text x="1148.68" y="233.2" text-anchor="middle" font-size="3.3">12</text>
<path d="M1148.68 229.3v-1M1148.68 151.4v1" stroke="#555" stroke-width=".4" stroke-opacity=".7"/>
<text x="1158.71" y="233.2" text-anchor="middle" font-size="3.3">14</text>
<path d="M1158.71 229.3v-1M1158.71 151.4v1" stroke="#555" stroke-width=".4" stroke-opacity=".7"/>
<text x="1168.74" y="233.2" text-anchor="middle" font-size="3.3">16</text>
<path d="M1168.74 229.3v-1M1168.74 151.4v1" stroke="#555" stroke-width=".4" stroke-opacity=".7"/>
<text x="1178.77" y="233.2" text-anchor="middle" font-size="3.3">18</text>
<path d="M1178.77 229.3v-1M1178.77 151.4v1" stroke="#555" stroke-width=".4" stroke-opacity=".7"/>
<text x="1188.8" y="233.2" text-anchor="middle" font-size="3.3">20</text>
<path d="M1188.8 229.3v-1M1188.8 151.4v1" stroke="#555" stroke-width=".4" stroke-opacity=".7"/>
<text x="1087.3" y="230.4" text-anchor="end" font-size="3.3">1</text>
<path d="M1088.5 229.3h1M1188.8 229.3h-1" stroke="#555" stroke-width=".4" stroke-opacity=".7"/>
<text x="1087.3" y="217.42" text-anchor="end" font-size="3.3">1.5</text>
<path d="M1088.5 216.32h1M1188.8 216.32h-1" stroke="#555" stroke-width=".4" stroke-opacity=".7"/>
<text x="1087.3" y="204.43" text-anchor="end" font-size="3.3">2</text>
<path d="M1088.5 203.33h1M1188.8 203.33h-1" stroke="#555" stroke-width=".4" stroke-opacity=".7"/>
<text x="1087.3" y="191.45" text-anchor="end" font-size="3.3">2.5</text>
<path d="M1088.5 190.35h1M1188.8 190.35h-1" stroke="#555" stroke-width=".4" stroke-opacity=".7"/>
<text x="1087.3" y="178.47" text-anchor="end" font-size="3.3">3</text>
<path d="M1088.5 177.37h1M1188.8 177.37h-1" stroke="#555" stroke-width=".4" stroke-opacity=".7"/>
<text x="1087.3" y="165.48" text-anchor="end" font-size="3.3">3.5</text>
<path d="M1088.5 164.38h1M1188.8 164.38h-1" stroke="#555" stroke-width=".4" stroke-opacity=".7"/>
<text x="1087.3" y="152.5" text-anchor="end" font-size="3.3">4</text>
<path d="M1088.5 151.4h1M1188.8 151.4h-1" stroke="#555" stroke-width=".4" stroke-opacity=".7"/>
</g>
<clipPath id="c8"><rect x="1088.5" y="151.4" width="100.3" height="77.9"/></clipPath><g clip-path="url(#c8)">
<polyline points="1093.13,227.5 1098.17,216.09 1103.2,207.39 1108.23,205.76 1113.27,228.04 1118.3,217.17 1123.34,214.46 1128.37,221.52 1133.41,217.17 1138.44,206.3 1143.48,213.37 1148.51,210.11 1153.55,228.04 1158.58,209.02 1163.62,225.33 1168.65,220.98 1173.69,216.63 1178.72,225.33 1183.76,209.02 1188.79,217.17" fill="none" stroke="#0a0aee" stroke-width="1.55" stroke-linejoin="round" stroke-linecap="round"/>
<polyline points="1093.13,209.57 1098.17,209.57 1103.2,193.26 1108.23,214.46 1113.27,197.61 1118.3,196.52 1123.34,195.43 1128.37,210.11 1133.41,196.52 1138.44,202.5 1143.48,213.91 1148.51,210.65 1153.55,191.09 1158.58,192.17 1163.62,212.28 1168.65,198.7 1173.69,204.67 1178.72,193.26 1183.76,209.57 1188.79,205.76" fill="none" stroke="#0a7d1e" stroke-width="1.55" stroke-linejoin="round" stroke-linecap="round"/>
<polyline points="1093.13,180.76 1098.17,193.8 1103.2,182.93 1108.23,199.24 1113.27,184.57 1118.3,187.83 1123.34,195.98 1128.37,182.39 1133.41,179.67 1138.44,179.13 1143.48,187.83 1148.51,196.52 1153.55,182.39 1158.58,177.5 1163.62,183.48 1168.65,185.11 1173.69,198.15 1178.72,191.09 1183.76,197.07 1188.79,203.04" fill="none" stroke="#f51414" stroke-width="1.55" stroke-linejoin="round" stroke-linecap="round"/>
<polyline points="1093.13,171.52 1098.17,187.83 1103.2,181.3 1108.23,188.37 1113.27,169.35 1118.3,183.48 1123.34,184.02 1128.37,189.46 1133.41,173.15 1138.44,170.43 1143.48,170.98 1148.51,173.7 1153.55,185.65 1158.58,167.72 1163.62,178.59 1168.65,184.57 1173.69,170.98 1178.72,180.76 1183.76,178.59 1188.79,168.8" fill="none" stroke="#14c4c8" stroke-width="1.55" stroke-linejoin="round" stroke-linecap="round"/>
<polyline points="1093.13,156.85 1098.17,170.98 1103.2,163.37 1108.23,168.8 1113.27,172.61 1118.3,167.17 1123.34,151.96 1128.37,153.59 1133.41,173.7 1138.44,177.5 1143.48,173.7 1148.51,162.83 1153.55,168.26 1158.58,174.24 1163.62,176.41 1168.65,162.28 1173.69,164.46 1178.72,165.54 1183.76,176.41 1188.79,177.5" fill="none" stroke="#c814c8" stroke-width="1.55" stroke-linejoin="round" stroke-linecap="round"/>
</g>
<rect x="87.4" y="436.9" width="127.9" height="95.4" fill="#b9babf"/>
<rect x="81.4" y="431.4" width="129.6" height="96.3" fill="#cdcdcd"/>
<path d="M83.9 527.7H211V432.9" fill="none" stroke="#222" stroke-opacity=".75" stroke-width="1"/>
<path d="M81.4 431.4H211" fill="none" stroke="#8a8a8a" stroke-opacity=".6" stroke-width=".8"/>
<rect x="97.6" y="438.9" width="100.6" height="77.4" fill="#fff" stroke="#bdbdbd" stroke-width=".5"/>
<g font-family='"Liberation Sans", sans-serif' fill="#333" fill-opacity=".72">
<text x="97.6" y="520.2" text-anchor="middle" font-size="3.3">0.1</text>
<path d="M97.6 516.3v-1M97.6 438.9v1" stroke="#555" stroke-width=".4" stroke-opacity=".7"/>
<text x="108.78" y="520.2" text-anchor="middle" font-size="3.3">0.2</text>
<path d="M108.78 516.3v-1M108.78 438.9v1" stroke="#555" stroke-width=".4" stroke-opacity=".7"/>
<text x="119.96" y="520.2" text-anchor="middle" font-size="3.3">0.3</text>
<path d="M119.96 516.3v-1M119.96 438.9v1" stroke="#555" stroke-width=".4" stroke-opacity=".7"/>
<text x="131.13" y="520.2" text-anchor="middle" font-size="3.3">0.4</text>
<path d="M131.13 516.3v-1M131.13 438.9v1" stroke="#555" stroke-width=".4" stroke-opacity=".7"/>
<text x="142.31" y="520.2" text-anchor="middle" font-size="3.3">0.5</text>
<path d="M142.31 516.3v-1M142.31 438.9v1" stroke="#555" stroke-width=".4" stroke-opacity=".7"/>
<text x="153.49" y="520.2" text-anchor="middle" font-size="3.3">0.6</text>
<path d="M153.49 516.3v-1M153.49 438.9v1" stroke="#555" stroke-width=".4" stroke-opacity=".7"/>
<text x="164.67" y="520.2" text-anchor="middle" font-size="3.3">0.7</text>
<path d="M164.67 516.3v-1M164.67 438.9v1" stroke="#555" stroke-width=".4" stroke-opacity=".7"/>
<text x="175.84" y="520.2" text-anchor="middle" font-size="3.3">0.8</text>
<path d="M175.84 516.3v-1M175.84 438.9v1" stroke="#555" stroke-width=".4" stroke-opacity=".7"/>
<text x="187.02" y="520.2" text-anchor="middle" font-size="3.3">0.9</text>
<path d="M187.02 516.3v-1M187.02 438.9v1" stroke="#555" stroke-width=".4" stroke-opacity=".7"/>
<text x="198.2" y="520.2" text-anchor="middle" font-size="3.3">1</text>
<path d="M198.2 516.3v-1M198.2 438.9v1" stroke="#555" stroke-width=".4" stroke-opacity=".7"/>
<text x="96.4" y="517.4" text-anchor="end" font-size="3.3">0</text>
<path d="M97.6 516.3h1M198.2 516.3h-1" stroke="#555" stroke-width=".4" stroke-opacity=".7"/>
<text x="96.4" y="509.66" text-anchor="end" font-size="3.3">0.1</text>
<path d="M97.6 508.56h1M198.2 508.56h-1" stroke="#555" stroke-width=".4" stroke-opacity=".7"/>
<text x="96.4" y="501.92" text-anchor="end" font-size="3.3">0.2</text>
<path d="M97.6 500.82h1M198.2 500.82h-1" stroke="#555" stroke-width=".4" stroke-opacity=".7"/>
<text x="96.4" y="494.18" text-anchor="end" font-size="3.3">0.3</text>
<path d="M97.6 493.08h1M198.2 493.08h-1" stroke="#555" stroke-width=".4" stroke-opacity=".7"/>
<text x="96.4" y="486.44" text-anchor="end" font-size="3.3">0.4</text>
<path d="M97.6 485.34h1M198.2 485.34h-1" stroke="#555" stroke-width=".4" stroke-opacity=".7"/>
<text x="96.4" y="478.7" text-anchor="end" font-size="3.3">0.5</text>
<path d="M97.6 477.6h1M198.2 477.6h-1" stroke="#555" stroke-width=".4" stroke-opacity=".7"/>
<text x="96.4" y="470.96" text-anchor="end" font-size="3.3">0.6</text>
<path d="M97.6 469.86h1M198.2 469.86h-1" stroke="#555" stroke-width=".4" stroke-opacity=".7"/>
<text x="96.4" y="463.22" text-anchor="end" font-size="3.3">0.7</text>
<path d="M97.6 462.12h1M198.2 462.12h-1" stroke="#555" stroke-width=".4" stroke-opacity=".7"/>
<text x="96.4" y="455.48" text-anchor="end" font-size="3.3">0.8</text>
<path d="M97.6 454.38h1M198.2 454.38h-1" stroke="#555" stroke-width=".4" stroke-opacity=".7"/>
<text x="96.4" y="447.74" text-anchor="end" font-size="3.3">0.9</text>
<path d="M97.6 446.64h1M198.2 446.64h-1" stroke="#555" stroke-width=".4" stroke-opacity=".7"/>
<text x="96.4" y="440" text-anchor="end" font-size="3.3">1</text>
<path d="M97.6 438.9h1M198.2 438.9h-1" stroke="#555" stroke-width=".4" stroke-opacity=".7"/>
</g>
<circle cx="122.72" cy="445.23" r="1.45" fill="#1010d8"/>
<circle cx="149" cy="447.24" r="1.45" fill="#1010d8"/>
<circle cx="148.44" cy="449.48" r="1.45" fill="#1010d8"/>
<circle cx="146.43" cy="452.95" r="1.45" fill="#1010d8"/>
<circle cx="130.21" cy="457.75" r="1.45" fill="#1010d8"/>
<circle cx="111.09" cy="461.78" r="1.45" fill="#1010d8"/>
<circle cx="168.34" cy="460.88" r="1.45" fill="#1010d8"/>
<circle cx="154.59" cy="469.05" r="1.45" fill="#1010d8"/>
<circle cx="189.02" cy="469.38" r="1.45" fill="#1010d8"/>
<circle cx="119.59" cy="477.1" r="1.45" fill="#1010d8"/>
<circle cx="195.84" cy="475.75" r="1.45" fill="#1010d8"/>
<circle cx="149" cy="487.27" r="1.45" fill="#1010d8"/>
<circle cx="103.94" cy="492.75" r="1.45" fill="#1010d8"/>
<circle cx="106.29" cy="492.75" r="1.45" fill="#1010d8"/>
<circle cx="170.46" cy="492.19" r="1.45" fill="#1010d8"/>
<circle cx="135.58" cy="497.22" r="1.45" fill="#1010d8"/>
<circle cx="129.21" cy="499.57" r="1.45" fill="#1010d8"/>
<circle cx="128.98" cy="504.04" r="1.45" fill="#1010d8"/>
<circle cx="188.8" cy="500.58" r="1.45" fill="#1010d8"/>
<circle cx="121.27" cy="512.65" r="1.45" fill="#1010d8"/>
<rect x="89.4" y="548.2" width="127.4" height="94.4" fill="#b9babf"/>
<rect x="83.4" y="542.7" width="129.1" height="95.3" fill="#cdcdcd"/>
<path d="M85.9 638H212.5V544.2" fill="none" stroke="#222" stroke-opacity=".75" stroke-width="1"/>
<path d="M83.4 542.7H212.5" fill="none" stroke="#8a8a8a" stroke-opacity=".6" stroke-width=".8"/>
<rect x="100.4" y="549.4" width="100.6" height="78.3" fill="#fff" stroke="#bdbdbd" stroke-width=".5"/>
<g font-family='"Liberation Sans", sans-serif' fill="#333" fill-opacity=".72">
<text x="100.4" y="631.6" text-anchor="middle" font-size="3.3">0</text>
<path d="M100.4 627.7v-1M100.4 549.4v1" stroke="#555" stroke-width=".4" stroke-opacity=".7"/>
<text x="110.46" y="631.6" text-anchor="middle" font-size="3.3">0.1</text>
<path d="M110.46 627.7v-1M110.46 549.4v1" stroke="#555" stroke-width=".4" stroke-opacity=".7"/>
<text x="120.52" y="631.6" text-anchor="middle" font-size="3.3">0.2</text>
<path d="M120.52 627.7v-1M120.52 549.4v1" stroke="#555" stroke-width=".4" stroke-opacity=".7"/>
<text x="130.58" y="631.6" text-anchor="middle" font-size="3.3">0.3</text>
<path d="M130.58 627.7v-1M130.58 549.4v1" stroke="#555" stroke-width=".4" stroke-opacity=".7"/>
<text x="140.64" y="631.6" text-anchor="middle" font-size="3.3">0.4</text>
<path d="M140.64 627.7v-1M140.64 549.4v1" stroke="#555" stroke-width=".4" stroke-opacity=".7"/>
<text x="150.7" y="631.6" text-anchor="middle" font-size="3.3">0.5</text>
<path d="M150.7 627.7v-1M150.7 549.4v1" stroke="#555" stroke-width=".4" stroke-opacity=".7"/>
<text x="160.76" y="631.6" text-anchor="middle" font-size="3.3">0.6</text>
<path d="M160.76 627.7v-1M160.76 549.4v1" stroke="#555" stroke-width=".4" stroke-opacity=".7"/>
<text x="170.82" y="631.6" text-anchor="middle" font-size="3.3">0.7</text>
<path d="M170.82 627.7v-1M170.82 549.4v1" stroke="#555" stroke-width=".4" stroke-opacity=".7"/>
<text x="180.88" y="631.6" text-anchor="middle" font-size="3.3">0.8</text>
<path d="M180.88 627.7v-1M180.88 549.4v1" stroke="#555" stroke-width=".4" stroke-opacity=".7"/>
<text x="190.94" y="631.6" text-anchor="middle" font-size="3.3">0.9</text>
<path d="M190.94 627.7v-1M190.94 549.4v1" stroke="#555" stroke-width=".4" stroke-opacity=".7"/>
<text x="201" y="631.6" text-anchor="middle" font-size="3.3">1</text>
<path d="M201 627.7v-1M201 549.4v1" stroke="#555" stroke-width=".4" stroke-opacity=".7"/>
<text x="99.2" y="628.8" text-anchor="end" font-size="3.3">0</text>
<path d="M100.4 627.7h1M201 627.7h-1" stroke="#555" stroke-width=".4" stroke-opacity=".7"/>
<text x="99.2" y="620.1" text-anchor="end" font-size="3.3">0.1</text>
<path d="M100.4 619h1M201 619h-1" stroke="#555" stroke-width=".4" stroke-opacity=".7"/>
<text x="99.2" y="611.4" text-anchor="end" font-size="3.3">0.2</text>
<path d="M100.4 610.3h1M201 610.3h-1" stroke="#555" stroke-width=".4" stroke-opacity=".7"/>
<text x="99.2" y="602.7" text-anchor="end" font-size="3.3">0.3</text>
<path d="M100.4 601.6h1M201 601.6h-1" stroke="#555" stroke-width=".4" stroke-opacity=".7"/>
<text x="99.2" y="594" text-anchor="end" font-size="3.3">0.4</text>
<path d="M100.4 592.9h1M201 592.9h-1" stroke="#555" stroke-width=".4" stroke-opacity=".7"/>
<text x="99.2" y="585.3" text-anchor="end" font-size="3.3">0.5</text>
<path d="M100.4 584.2h1M201 584.2h-1" stroke="#555" stroke-width=".4" stroke-opacity=".7"/>
<text x="99.2" y="576.6" text-anchor="end" font-size="3.3">0.6</text>
<path d="M100.4 575.5h1M201 575.5h-1" stroke="#555" stroke-width=".4" stroke-opacity=".7"/>
<text x="99.2" y="567.9" text-anchor="end" font-size="3.3">0.7</text>
<path d="M100.4 566.8h1M201 566.8h-1" stroke="#555" stroke-width=".4" stroke-opacity=".7"/>
<text x="99.2" y="559.2" text-anchor="end" font-size="3.3">0.8</text>
<path d="M100.4 558.1h1M201 558.1h-1" stroke="#555" stroke-width=".4" stroke-opacity=".7"/>
<text x="99.2" y="550.5" text-anchor="end" font-size="3.3">0.9</text>
<path d="M100.4 549.4h1M201 549.4h-1" stroke="#555" stroke-width=".4" stroke-opacity=".7"/>
</g>
<circle cx="105.73" cy="593.58" r="3.52" fill="none" stroke="#1a1ad0" stroke-width="1.15"/>
<circle cx="130.88" cy="561.94" r="1.4" fill="none" stroke="#1a1ad0" stroke-width="1.15"/>
<circle cx="135.25" cy="571.22" r="3.97" fill="none" stroke="#1a1ad0" stroke-width="1.15"/>
<circle cx="169.35" cy="557.24" r="3.41" fill="none" stroke="#1a1ad0" stroke-width="1.15"/>
<circle cx="173.82" cy="574.01" r="3.97" fill="none" stroke="#1a1ad0" stroke-width="1.15"/>
<circle cx="192.27" cy="579.05" r="3.19" fill="none" stroke="#1a1ad0" stroke-width="1.15"/>
<circle cx="197.3" cy="577.59" r="2.85" fill="none" stroke="#1a1ad0" stroke-width="1.15"/>
<circle cx="174.71" cy="593.36" r="1.73" fill="none" stroke="#1a1ad0" stroke-width="1.15"/>
<circle cx="147.32" cy="601.74" r="3.97" fill="none" stroke="#1a1ad0" stroke-width="1.15"/>
<circle cx="157.16" cy="619.63" r="2.85" fill="none" stroke="#1a1ad0" stroke-width="1.15"/>
<rect x="1077.6" y="362.8" width="126.9" height="94.4" fill="#b9babf"/>
<rect x="1071.6" y="357.3" width="128.6" height="95.3" fill="#cdcdcd"/>
<path d="M1074.1 452.6H1200.2V358.8" fill="none" stroke="#222" stroke-opacity=".75" stroke-width="1"/>
<path d="M1071.6 357.3H1200.2" fill="none" stroke="#8a8a8a" stroke-opacity=".6" stroke-width=".8"/>
<rect x="1088.8" y="364.5" width="99.3" height="78.3" fill="#fff" stroke="#bdbdbd" stroke-width=".5"/>
<g font-family='"Liberation Sans", sans-serif' fill="#333" fill-opacity=".72">
<text x="1088.8" y="446.7" text-anchor="middle" font-size="3.3">-4</text>
<path d="M1088.8 442.8v-1M1088.8 364.5v1" stroke="#555" stroke-width=".4" stroke-opacity=".7"/>
<text x="1101.21" y="446.7" text-anchor="middle" font-size="3.3">-3</text>
<path d="M1101.21 442.8v-1M1101.21 364.5v1" stroke="#555" stroke-width=".4" stroke-opacity=".7"/>
<text x="1113.62" y="446.7" text-anchor="middle" font-size="3.3">-2</text>
<path d="M1113.62 442.8v-1M1113.62 364.5v1" stroke="#555" stroke-width=".4" stroke-opacity=".7"/>
<text x="1126.04" y="446.7" text-anchor="middle" font-size="3.3">-1</text>
<path d="M1126.04 442.8v-1M1126.04 364.5v1" stroke="#555" stroke-width=".4" stroke-opacity=".7"/>
<text x="1138.45" y="446.7" text-anchor="middle" font-size="3.3">0</text>
<path d="M1138.45 442.8v-1M1138.45 364.5v1" stroke="#555" stroke-width=".4" stroke-opacity=".7"/>
<text x="1150.86" y="446.7" text-anchor="middle" font-size="3.3">1</text>
<path d="M1150.86 442.8v-1M1150.86 364.5v1" stroke="#555" stroke-width=".4" stroke-opacity=".7"/>
<text x="1163.27" y="446.7" text-anchor="middle" font-size="3.3">2</text>
<path d="M1163.27 442.8v-1M1163.27 364.5v1" stroke="#555" stroke-width=".4" stroke-opacity=".7"/>
<text x="1175.69" y="446.7" text-anchor="middle" font-size="3.3">3</text>
<path d="M1175.69 442.8v-1M1175.69 364.5v1" stroke="#555" stroke-width=".4" stroke-opacity=".7"/>
<text x="1188.1" y="446.7" text-anchor="middle" font-size="3.3">4</text>
<path d="M1188.1 442.8v-1M1188.1 364.5v1" stroke="#555" stroke-width=".4" stroke-opacity=".7"/>
<text x="1087.6" y="443.9" text-anchor="end" font-size="3.3">0</text>
<path d="M1088.8 442.8h1M1188.1 442.8h-1" stroke="#555" stroke-width=".4" stroke-opacity=".7"/>
<text x="1087.6" y="430.85" text-anchor="end" font-size="3.3">1000</text>
<path d="M1088.8 429.75h1M1188.1 429.75h-1" stroke="#555" stroke-width=".4" stroke-opacity=".7"/>
<text x="1087.6" y="417.8" text-anchor="end" font-size="3.3">2000</text>
<path d="M1088.8 416.7h1M1188.1 416.7h-1" stroke="#555" stroke-width=".4" stroke-opacity=".7"/>
<text x="1087.6" y="404.75" text-anchor="end" font-size="3.3">3000</text>
<path d="M1088.8 403.65h1M1188.1 403.65h-1" stroke="#555" stroke-width=".4" stroke-opacity=".7"/>
<text x="1087.6" y="391.7" text-anchor="end" font-size="3.3">4000</text>
<path d="M1088.8 390.6h1M1188.1 390.6h-1" stroke="#555" stroke-width=".4" stroke-opacity=".7"/>
<text x="1087.6" y="378.65" text-anchor="end" font-size="3.3">5000</text>
<path d="M1088.8 377.55h1M1188.1 377.55h-1" stroke="#555" stroke-width=".4" stroke-opacity=".7"/>
<text x="1087.6" y="365.6" text-anchor="end" font-size="3.3">6000</text>
<path d="M1088.8 364.5h1M1188.1 364.5h-1" stroke="#555" stroke-width=".4" stroke-opacity=".7"/>
</g>
<rect x="1089.9" y="441.6" width="19.4" height="1.2" fill="#00008f" stroke="#000070" stroke-width=".4"/>
<rect x="1109.3" y="414.8" width="19.8" height="28" fill="#00008f" stroke="#000070" stroke-width=".4"/>
<rect x="1129.1" y="368.2" width="19.5" height="74.6" fill="#00008f" stroke="#000070" stroke-width=".4"/>
<rect x="1148.6" y="417.3" width="19.4" height="25.5" fill="#00008f" stroke="#000070" stroke-width=".4"/>
<rect x="1168" y="441.6" width="19" height="1.2" fill="#00008f" stroke="#000070" stroke-width=".4"/>
<rect x="1077.6" y="473.9" width="127.1" height="95.2" fill="#b9babf"/>
<rect x="1071.6" y="468.4" width="128.8" height="96.1" fill="#cdcdcd"/>
<path d="M1074.1 564.5H1200.4V469.9" fill="none" stroke="#222" stroke-opacity=".75" stroke-width="1"/>
<path d="M1071.6 468.4H1200.4" fill="none" stroke="#8a8a8a" stroke-opacity=".6" stroke-width=".8"/>
<rect x="1088.6" y="475.1" width="99.5" height="78.6" fill="#fff" stroke="#bdbdbd" stroke-width=".5"/>
<g font-family='"Liberation Sans", sans-serif' fill="#333" fill-opacity=".72">
<text x="1088.6" y="557.6" text-anchor="middle" font-size="3.3">-4</text>
<path d="M1088.6 553.7v-1M1088.6 475.1v1" stroke="#555" stroke-width=".4" stroke-opacity=".7"/>
<text x="1101.04" y="557.6" text-anchor="middle" font-size="3.3">-3</text>
<path d="M1101.04 553.7v-1M1101.04 475.1v1" stroke="#555" stroke-width=".4" stroke-opacity=".7"/>
<text x="1113.47" y="557.6" text-anchor="middle" font-size="3.3">-2</text>
<path d="M1113.47 553.7v-1M1113.47 475.1v1" stroke="#555" stroke-width=".4" stroke-opacity=".7"/>
<text x="1125.91" y="557.6" text-anchor="middle" font-size="3.3">-1</text>
<path d="M1125.91 553.7v-1M1125.91 475.1v1" stroke="#555" stroke-width=".4" stroke-opacity=".7"/>
<text x="1138.35" y="557.6" text-anchor="middle" font-size="3.3">0</text>
<path d="M1138.35 553.7v-1M1138.35 475.1v1" stroke="#555" stroke-width=".4" stroke-opacity=".7"/>
<text x="1150.79" y="557.6" text-anchor="middle" font-size="3.3">1</text>
<path d="M1150.79 553.7v-1M1150.79 475.1v1" stroke="#555" stroke-width=".4" stroke-opacity=".7"/>
<text x="1163.22" y="557.6" text-anchor="middle" font-size="3.3">2</text>
<path d="M1163.22 553.7v-1M1163.22 475.1v1" stroke="#555" stroke-width=".4" stroke-opacity=".7"/>
<text x="1175.66" y="557.6" text-anchor="middle" font-size="3.3">3</text>
<path d="M1175.66 553.7v-1M1175.66 475.1v1" stroke="#555" stroke-width=".4" stroke-opacity=".7"/>
<text x="1188.1" y="557.6" text-anchor="middle" font-size="3.3">4</text>
<path d="M1188.1 553.7v-1M1188.1 475.1v1" stroke="#555" stroke-width=".4" stroke-opacity=".7"/>
<text x="1087.4" y="554.8" text-anchor="end" font-size="3.3">0</text>
<path d="M1088.6 553.7h1M1188.1 553.7h-1" stroke="#555" stroke-width=".4" stroke-opacity=".7"/>
<text x="1087.4" y="543.57" text-anchor="end" font-size="3.3">1000</text>
<path d="M1088.6 542.47h1M1188.1 542.47h-1" stroke="#555" stroke-width=".4" stroke-opacity=".7"/>
<text x="1087.4" y="532.34" text-anchor="end" font-size="3.3">2000</text>
<path d="M1088.6 531.24h1M1188.1 531.24h-1" stroke="#555" stroke-width=".4" stroke-opacity=".7"/>
<text x="1087.4" y="521.11" text-anchor="end" font-size="3.3">3000</text>
<path d="M1088.6 520.01h1M1188.1 520.01h-1" stroke="#555" stroke-width=".4" stroke-opacity=".7"/>
<text x="1087.4" y="509.89" text-anchor="end" font-size="3.3">4000</text>
<path d="M1088.6 508.79h1M1188.1 508.79h-1" stroke="#555" stroke-width=".4" stroke-opacity=".7"/>
<text x="1087.4" y="498.66" text-anchor="end" font-size="3.3">5000</text>
<path d="M1088.6 497.56h1M1188.1 497.56h-1" stroke="#555" stroke-width=".4" stroke-opacity=".7"/>
<text x="1087.4" y="487.43" text-anchor="end" font-size="3.3">6000</text>
<path d="M1088.6 486.33h1M1188.1 486.33h-1" stroke="#555" stroke-width=".4" stroke-opacity=".7"/>
<text x="1087.4" y="476.2" text-anchor="end" font-size="3.3">7000</text>
<path d="M1088.6 475.1h1M1188.1 475.1h-1" stroke="#555" stroke-width=".4" stroke-opacity=".7"/>
</g>
<polyline points="1089.04,553.28 1090.27,553.24 1091.5,553.2 1092.73,553.14 1093.96,553.06 1095.19,552.96 1096.42,552.82 1097.65,552.64 1098.88,552.42 1100.11,552.13 1101.34,551.78 1102.57,551.33 1103.8,550.78 1105.03,550.11 1106.26,549.3 1107.49,548.32 1108.72,547.17 1109.95,545.82 1111.18,544.24 1112.41,542.44 1113.64,540.38 1114.87,538.06 1116.1,535.49 1117.33,532.65 1118.56,529.57 1119.79,526.25 1121.02,522.73 1122.25,519.04 1123.48,515.24 1124.71,511.36 1125.94,507.48 1127.17,503.66 1128.4,499.98 1129.63,496.5 1130.86,493.3 1132.09,490.46 1133.32,488.03 1134.55,486.14 1135.78,486.01 1137.01,485.13 1138.24,483.54 1139.47,483.77 1140.7,484.65 1141.93,486.08 1143.16,488.03 1144.39,490.46 1145.62,493.3 1146.85,496.5 1148.08,499.98 1149.31,503.66 1150.54,507.48 1151.77,511.36 1153,515.24 1154.23,519.04 1155.46,522.73 1156.69,526.25 1157.92,529.57 1159.15,532.65 1160.38,535.49 1161.61,538.06 1162.84,540.38 1164.07,542.44 1165.3,544.24 1166.53,545.82 1167.76,547.17 1168.99,548.32 1170.22,549.3 1171.45,550.11 1172.68,550.78 1173.91,551.33 1175.14,551.78 1176.37,552.13 1177.6,552.42 1178.83,552.64 1180.06,552.82 1181.29,552.96 1182.52,553.06 1183.75,553.14 1184.97,553.2 1186.2,553.24 1187.43,553.28" fill="none" stroke="#1c1cdc" stroke-width="1.35" stroke-linejoin="round" stroke-linecap="round"/>
<rect x="1077.6" y="583.9" width="127.1" height="95.2" fill="#b9babf"/>
<rect x="1071.6" y="578.4" width="128.8" height="96.1" fill="#cdcdcd"/>
<path d="M1074.1 674.5H1200.4V579.9" fill="none" stroke="#222" stroke-opacity=".75" stroke-width="1"/>
<path d="M1071.6 578.4H1200.4" fill="none" stroke="#8a8a8a" stroke-opacity=".6" stroke-width=".8"/>
<rect x="1087.7" y="585.7" width="100.2" height="77.7" fill="#fff" stroke="#bdbdbd" stroke-width=".5"/>
<g font-family='"Liberation Sans", sans-serif' fill="#333" fill-opacity=".72">
<text x="1087.7" y="667.3" text-anchor="middle" font-size="3.3">0.1</text>
<path d="M1087.7 663.4v-1M1087.7 585.7v1" stroke="#555" stroke-width=".4" stroke-opacity=".7"/>
<text x="1098.83" y="667.3" text-anchor="middle" font-size="3.3">0.2</text>
<path d="M1098.83 663.4v-1M1098.83 585.7v1" stroke="#555" stroke-width=".4" stroke-opacity=".7"/>
<text x="1109.97" y="667.3" text-anchor="middle" font-size="3.3">0.3</text>
<path d="M1109.97 663.4v-1M1109.97 585.7v1" stroke="#555" stroke-width=".4" stroke-opacity=".7"/>
<text x="1121.1" y="667.3" text-anchor="middle" font-size="3.3">0.4</text>
<path d="M1121.1 663.4v-1M1121.1 585.7v1" stroke="#555" stroke-width=".4" stroke-opacity=".7"/>
<text x="1132.23" y="667.3" text-anchor="middle" font-size="3.3">0.5</text>
<path d="M1132.23 663.4v-1M1132.23 585.7v1" stroke="#555" stroke-width=".4" stroke-opacity=".7"/>
<text x="1143.37" y="667.3" text-anchor="middle" font-size="3.3">0.6</text>
<path d="M1143.37 663.4v-1M1143.37 585.7v1" stroke="#555" stroke-width=".4" stroke-opacity=".7"/>
<text x="1154.5" y="667.3" text-anchor="middle" font-size="3.3">0.7</text>
<path d="M1154.5 663.4v-1M1154.5 585.7v1" stroke="#555" stroke-width=".4" stroke-opacity=".7"/>
<text x="1165.63" y="667.3" text-anchor="middle" font-size="3.3">0.8</text>
<path d="M1165.63 663.4v-1M1165.63 585.7v1" stroke="#555" stroke-width=".4" stroke-opacity=".7"/>
<text x="1176.77" y="667.3" text-anchor="middle" font-size="3.3">0.9</text>
<path d="M1176.77 663.4v-1M1176.77 585.7v1" stroke="#555" stroke-width=".4" stroke-opacity=".7"/>
<text x="1187.9" y="667.3" text-anchor="middle" font-size="3.3">1</text>
<path d="M1187.9 663.4v-1M1187.9 585.7v1" stroke="#555" stroke-width=".4" stroke-opacity=".7"/>
<text x="1086.5" y="664.5" text-anchor="end" font-size="3.3">0</text>
<path d="M1087.7 663.4h1M1187.9 663.4h-1" stroke="#555" stroke-width=".4" stroke-opacity=".7"/>
<text x="1086.5" y="656.73" text-anchor="end" font-size="3.3">0.1</text>
<path d="M1087.7 655.63h1M1187.9 655.63h-1" stroke="#555" stroke-width=".4" stroke-opacity=".7"/>
<text x="1086.5" y="648.96" text-anchor="end" font-size="3.3">0.2</text>
<path d="M1087.7 647.86h1M1187.9 647.86h-1" stroke="#555" stroke-width=".4" stroke-opacity=".7"/>
<text x="1086.5" y="641.19" text-anchor="end" font-size="3.3">0.3</text>
<path d="M1087.7 640.09h1M1187.9 640.09h-1" stroke="#555" stroke-width=".4" stroke-opacity=".7"/>
<text x="1086.5" y="633.42" text-anchor="end" font-size="3.3">0.4</text>
<path d="M1087.7 632.32h1M1187.9 632.32h-1" stroke="#555" stroke-width=".4" stroke-opacity=".7"/>
<text x="1086.5" y="625.65" text-anchor="end" font-size="3.3">0.5</text>
<path d="M1087.7 624.55h1M1187.9 624.55h-1" stroke="#555" stroke-width=".4" stroke-opacity=".7"/>
<text x="1086.5" y="617.88" text-anchor="end" font-size="3.3">0.6</text>
<path d="M1087.7 616.78h1M1187.9 616.78h-1" stroke="#555" stroke-width=".4" stroke-opacity=".7"/>
<text x="1086.5" y="610.11" text-anchor="end" font-size="3.3">0.7</text>
<path d="M1087.7 609.01h1M1187.9 609.01h-1" stroke="#555" stroke-width=".4" stroke-opacity=".7"/>
<text x="1086.5" y="602.34" text-anchor="end" font-size="3.3">0.8</text>
<path d="M1087.7 601.24h1M1187.9 601.24h-1" stroke="#555" stroke-width=".4" stroke-opacity=".7"/>
<text x="1086.5" y="594.57" text-anchor="end" font-size="3.3">0.9</text>
<path d="M1087.7 593.47h1M1187.9 593.47h-1" stroke="#555" stroke-width=".4" stroke-opacity=".7"/>
<text x="1086.5" y="586.8" text-anchor="end" font-size="3.3">1</text>
<path d="M1087.7 585.7h1M1187.9 585.7h-1" stroke="#555" stroke-width=".4" stroke-opacity=".7"/>
</g>
<circle cx="1112.72" cy="592.23" r="1.45" fill="#1010d8"/>
<circle cx="1139" cy="594.24" r="1.45" fill="#1010d8"/>
<circle cx="1138.44" cy="596.48" r="1.45" fill="#1010d8"/>
<circle cx="1136.43" cy="599.95" r="1.45" fill="#1010d8"/>
<circle cx="1120.21" cy="604.75" r="1.45" fill="#1010d8"/>
<circle cx="1101.09" cy="608.78" r="1.45" fill="#1010d8"/>
<circle cx="1158.34" cy="607.88" r="1.45" fill="#1010d8"/>
<circle cx="1144.59" cy="616.05" r="1.45" fill="#1010d8"/>
<circle cx="1179.02" cy="616.38" r="1.45" fill="#1010d8"/>
<circle cx="1109.59" cy="624.1" r="1.45" fill="#1010d8"/>
<circle cx="1185.84" cy="622.75" r="1.45" fill="#1010d8"/>
<circle cx="1139" cy="634.27" r="1.45" fill="#1010d8"/>
<circle cx="1093.94" cy="639.75" r="1.45" fill="#1010d8"/>
<circle cx="1096.29" cy="639.75" r="1.45" fill="#1010d8"/>
<circle cx="1160.46" cy="639.19" r="1.45" fill="#1010d8"/>
<circle cx="1125.58" cy="644.22" r="1.45" fill="#1010d8"/>
<circle cx="1119.21" cy="646.57" r="1.45" fill="#1010d8"/>
<circle cx="1118.98" cy="651.04" r="1.45" fill="#1010d8"/>
<circle cx="1178.8" cy="647.58" r="1.45" fill="#1010d8"/>
<circle cx="1111.27" cy="659.65" r="1.45" fill="#1010d8"/>
<rect x="1077.6" y="693.9" width="127.1" height="95.2" fill="#b9babf"/>
<rect x="1071.6" y="688.4" width="128.8" height="96.1" fill="#cdcdcd"/>
<path d="M1074.1 784.5H1200.4V689.9" fill="none" stroke="#222" stroke-opacity=".75" stroke-width="1"/>
<path d="M1071.6 688.4H1200.4" fill="none" stroke="#8a8a8a" stroke-opacity=".6" stroke-width=".8"/>
<polygon points="1086.92,714.1 1151.77,696.21 1187.55,731.99 1188.33,751 1123.82,773.36 1087.7,737.58" fill="#fff" stroke="#bbb" stroke-width=".4"/>
<line x1="1099.89" y1="710.52" x2="1100.74" y2="733.44" stroke="#c9c9c9" stroke-width="0.4"/>
<line x1="1158.92" y1="703.37" x2="1159.97" y2="723.72" stroke="#c9c9c9" stroke-width="0.4"/>
<line x1="1112.86" y1="706.95" x2="1113.78" y2="729.31" stroke="#c9c9c9" stroke-width="0.4"/>
<line x1="1166.08" y1="710.52" x2="1167.06" y2="730.54" stroke="#c9c9c9" stroke-width="0.4"/>
<line x1="1125.83" y1="703.37" x2="1126.81" y2="725.17" stroke="#c9c9c9" stroke-width="0.4"/>
<line x1="1173.24" y1="717.68" x2="1174.15" y2="737.36" stroke="#c9c9c9" stroke-width="0.4"/>
<line x1="1138.8" y1="699.79" x2="1139.85" y2="721.03" stroke="#c9c9c9" stroke-width="0.4"/>
<line x1="1180.39" y1="724.83" x2="1181.24" y2="744.18" stroke="#c9c9c9" stroke-width="0.4"/>
<polyline points="1087.26,725.84 1152.33,706.61 1187.88,741.49" fill="none" stroke="#c9c9c9" stroke-width="0.4" stroke-linejoin="round" stroke-linecap="round"/>
<line x1="1151.77" y1="696.21" x2="1152.89" y2="716.9" stroke="#999" stroke-width="0.4"/>
<polyline points="1087.7,737.58 1152.89,716.9 1188.33,751" fill="none" stroke="#c9c9c9" stroke-width="0.4" stroke-linejoin="round" stroke-linecap="round"/>
<polygon points="1094.86,733.68 1100.92,731.82 1106.97,732.22 1113.43,723.74 1119.89,727.78 1126.6,715.11 1133.22,720.92 1139.27,717.29 1145.73,718.9 1151.79,715.67 1155.42,718.5 1163.49,726.97 1175.61,739.89 1188.12,748.78 1180.05,753.22 1168.74,757.25 1162.69,761.69 1155.02,759.68 1143.71,764.92 1137.25,764.52 1130.79,769.36 1122.72,760.48 1113.03,748.37 1104.15,744.33" fill="#0a24f5" stroke="#0b1a40" stroke-width=".3" stroke-linejoin="round"/>
<polygon points="1094.86,733.68 1100.92,731.82 1109.4,738.28 1104.15,744.33" fill="#00008f" stroke="#0b1a40" stroke-width=".3" stroke-linejoin="round"/>
<polygon points="1100.92,731.82 1106.97,732.22 1113.43,723.74 1119.89,727.78 1123.53,734.24 1118.28,737.07 1109.4,738.28" fill="#10a8ff" stroke="#0b1a40" stroke-width=".3" stroke-linejoin="round"/>
<polygon points="1104.15,744.33 1109.4,738.28 1118.28,737.07 1113.03,748.37" fill="#10a8ff" stroke="#0b1a40" stroke-width=".3" stroke-linejoin="round"/>
<polygon points="1119.89,727.78 1126.6,715.11 1133.22,720.92 1139.27,717.29 1145.73,718.9 1147.75,722.13 1141.69,727.38 1136.45,730.61 1129.99,732.22 1123.53,734.24" fill="#10a8ff" stroke="#0b1a40" stroke-width=".3" stroke-linejoin="round"/>
<polygon points="1113.43,723.74 1119.89,727.78 1117.07,734.65 1112.22,733.03" fill="#10a8ff" stroke="#0b1a40" stroke-width=".3" stroke-linejoin="round"/>
<polygon points="1129.99,732.22 1136.45,730.61 1144.52,736.26 1139.68,744.33 1136.45,743.53" fill="#00008f" stroke="#0b1a40" stroke-width=".3" stroke-linejoin="round"/>
<polygon points="1145.73,718.9 1151.79,715.67 1155.42,718.5 1149.36,722.13 1147.75,722.13" fill="#c8f532" stroke="#0b1a40" stroke-width=".3" stroke-linejoin="round"/>
<polygon points="1141.69,727.38 1147.75,722.13 1149.36,722.13 1155.42,718.5 1163.49,726.97 1157.44,732.63 1149.36,733.84 1141.69,728.59" fill="#3cffc0" stroke="#0b1a40" stroke-width=".3" stroke-linejoin="round"/>
<polygon points="1149.36,733.84 1157.44,732.63 1159.05,740.3 1153.81,745.55 1144.52,736.26" fill="#3cffc0" stroke="#0b1a40" stroke-width=".3" stroke-linejoin="round"/>
<polygon points="1136.45,730.61 1141.69,728.59 1149.36,733.84 1144.52,735.45" fill="#c8f532" stroke="#0b1a40" stroke-width=".3" stroke-linejoin="round"/>
<polygon points="1163.49,726.97 1175.61,739.89 1171.97,743.53 1166.72,748.37 1159.05,740.3 1157.44,732.63" fill="#00008f" stroke="#0b1a40" stroke-width=".3" stroke-linejoin="round"/>
<polygon points="1153.81,745.55 1159.05,740.3 1166.72,748.37 1168.74,757.25 1162.69,761.69 1155.02,747.56" fill="#00008f" stroke="#0b1a40" stroke-width=".3" stroke-linejoin="round"/>
<polygon points="1165.51,729.15 1175.61,739.89 1178.03,740.3 1173.59,742.32 1171.97,743.53" fill="#10a8ff" stroke="#0b1a40" stroke-width=".3" stroke-linejoin="round"/>
<polygon points="1127.56,745.95 1136.45,743.53 1146.13,751.6 1139.68,752.41 1134.83,754.02" fill="#10a8ff" stroke="#0b1a40" stroke-width=".3" stroke-linejoin="round"/>
<polygon points="1134.83,754.02 1139.68,752.41 1143.71,764.52 1137.25,764.52" fill="#10a8ff" stroke="#0b1a40" stroke-width=".3" stroke-linejoin="round"/>
<polygon points="1146.13,751.6 1153.81,747.56 1162.69,761.69 1155.02,759.68 1147.75,753.22" fill="#10a8ff" stroke="#0b1a40" stroke-width=".3" stroke-linejoin="round"/>
<polyline points="1106.97,732.22 1113.03,735.45 1118.28,737.07 1127.56,745.95 1134.83,754.02" fill="none" stroke="#0b1a40" stroke-width="0.3" stroke-linejoin="round" stroke-linecap="round" opacity=".7"/>
<polyline points="1119.89,727.78 1123.53,734.24 1136.45,743.53 1146.13,751.6 1155.02,759.68" fill="none" stroke="#0b1a40" stroke-width="0.3" stroke-linejoin="round" stroke-linecap="round" opacity=".7"/>
<polyline points="1133.22,720.92 1136.45,730.61 1144.52,736.26 1153.81,745.55 1162.69,761.69" fill="none" stroke="#0b1a40" stroke-width="0.3" stroke-linejoin="round" stroke-linecap="round" opacity=".7"/>
<polyline points="1109.4,738.28 1118.28,737.07 1129.99,732.22 1141.69,727.38 1155.42,718.5" fill="none" stroke="#0b1a40" stroke-width="0.3" stroke-linejoin="round" stroke-linecap="round" opacity=".7"/>
<polyline points="1113.03,748.37 1127.56,745.95 1139.68,744.33 1153.81,745.55 1166.72,748.37 1175.61,739.89" fill="none" stroke="#0b1a40" stroke-width="0.3" stroke-linejoin="round" stroke-linecap="round" opacity=".7"/>
<polyline points="1122.72,760.48 1134.83,754.02 1147.75,753.22 1168.74,757.25" fill="none" stroke="#0b1a40" stroke-width="0.3" stroke-linejoin="round" stroke-linecap="round" opacity=".7"/>
<polygon points="1152.59,734.65 1157.6,733.51 1160.02,738.68 1164.71,746.76 1158.41,738.2" fill="#ffa000" stroke="#c07000" stroke-width=".2"/>
<g font-family='"Liberation Sans", sans-serif' fill="#222" fill-opacity=".85">
<text x="1084.68" y="714.64" text-anchor="middle" font-size="3.5">10</text>
<text x="1085.24" y="726.38" text-anchor="middle" font-size="3.5">5</text>
<text x="1085.24" y="738.12" text-anchor="middle" font-size="3.5">0</text>
<text x="1084.13" y="741.48" text-anchor="middle" font-size="3.5">5</text>
<text x="1093.63" y="750.98" text-anchor="middle" font-size="3.5">4</text>
<text x="1102.57" y="759.36" text-anchor="middle" font-size="3.5">3</text>
<text x="1112.08" y="768.31" text-anchor="middle" font-size="3.5">2</text>
<text x="1121.58" y="777.25" text-anchor="middle" font-size="3.5">1</text>
<text x="1126.61" y="778.37" text-anchor="middle" font-size="3.5">0</text>
<text x="1139.47" y="774.46" text-anchor="middle" font-size="3.5">2</text>
<text x="1152.33" y="770.55" text-anchor="middle" font-size="3.5">4</text>
<text x="1165.19" y="766.07" text-anchor="middle" font-size="3.5">6</text>
<text x="1178.04" y="762.16" text-anchor="middle" font-size="3.5">8</text>
<text x="1191.46" y="757.69" text-anchor="middle" font-size="3.5">10</text>
</g>
<rect x="89.4" y="835.1" width="127.4" height="94.4" fill="#b9babf"/>
<rect x="83.4" y="829.6" width="129.1" height="95.3" fill="#cdcdcd"/>
<path d="M85.9 924.9H212.5V831.1" fill="none" stroke="#222" stroke-opacity=".75" stroke-width="1"/>
<path d="M83.4 829.6H212.5" fill="none" stroke="#8a8a8a" stroke-opacity=".6" stroke-width=".8"/>
<rect x="100.4" y="836.5" width="100" height="78.3" fill="#fff" stroke="#bdbdbd" stroke-width=".5"/>
<g font-family='"Liberation Sans", sans-serif' fill="#333" fill-opacity=".72">
<text x="117" y="918.7" text-anchor="middle" font-size="3.3">1</text>
<path d="M117 914.8v-1M117 836.5v1" stroke="#555" stroke-width=".4" stroke-opacity=".7"/>
<text x="150.4" y="918.7" text-anchor="middle" font-size="3.3">2</text>
<path d="M150.4 914.8v-1M150.4 836.5v1" stroke="#555" stroke-width=".4" stroke-opacity=".7"/>
<text x="183.8" y="918.7" text-anchor="middle" font-size="3.3">3</text>
<path d="M183.8 914.8v-1M183.8 836.5v1" stroke="#555" stroke-width=".4" stroke-opacity=".7"/>
<text x="99.2" y="915.9" text-anchor="end" font-size="3.3">0</text>
<path d="M100.4 914.8h1M200.4 914.8h-1" stroke="#555" stroke-width=".4" stroke-opacity=".7"/>
<text x="99.2" y="902.82" text-anchor="end" font-size="3.3">0.2</text>
<path d="M100.4 901.72h1M200.4 901.72h-1" stroke="#555" stroke-width=".4" stroke-opacity=".7"/>
<text x="99.2" y="889.75" text-anchor="end" font-size="3.3">0.4</text>
<path d="M100.4 888.65h1M200.4 888.65h-1" stroke="#555" stroke-width=".4" stroke-opacity=".7"/>
<text x="99.2" y="876.75" text-anchor="end" font-size="3.3">0.6</text>
<path d="M100.4 875.65h1M200.4 875.65h-1" stroke="#555" stroke-width=".4" stroke-opacity=".7"/>
<text x="99.2" y="863.67" text-anchor="end" font-size="3.3">0.8</text>
<path d="M100.4 862.57h1M200.4 862.57h-1" stroke="#555" stroke-width=".4" stroke-opacity=".7"/>
<text x="99.2" y="850.6" text-anchor="end" font-size="3.3">1</text>
<path d="M100.4 849.5h1M200.4 849.5h-1" stroke="#555" stroke-width=".4" stroke-opacity=".7"/>
</g>
<rect x="103.72" y="849.62" width="26.27" height="20.8" fill="#800000" stroke="#102010" stroke-opacity=".35" stroke-width=".35"/>
<rect x="103.72" y="870.41" width="26.27" height="1.68" fill="#ff7000" stroke="#102010" stroke-opacity=".35" stroke-width=".35"/>
<rect x="103.72" y="872.09" width="26.27" height="1.57" fill="#8fff6f" stroke="#102010" stroke-opacity=".35" stroke-width=".35"/>
<rect x="103.72" y="873.65" width="26.27" height="7.04" fill="#0090ff" stroke="#102010" stroke-opacity=".35" stroke-width=".35"/>
<rect x="103.72" y="880.7" width="26.27" height="34.1" fill="#00008f" stroke="#102010" stroke-opacity=".35" stroke-width=".35"/>
<rect x="137.03" y="849.62" width="26.5" height="21.24" fill="#800000" stroke="#102010" stroke-opacity=".35" stroke-width=".35"/>
<rect x="137.03" y="870.86" width="26.5" height="1.23" fill="#ff7000" stroke="#102010" stroke-opacity=".35" stroke-width=".35"/>
<rect x="137.03" y="872.09" width="26.5" height="23.37" fill="#8fff6f" stroke="#102010" stroke-opacity=".35" stroke-width=".35"/>
<rect x="137.03" y="895.46" width="26.5" height="14.53" fill="#0090ff" stroke="#102010" stroke-opacity=".35" stroke-width=".35"/>
<rect x="137.03" y="909.99" width="26.5" height="4.81" fill="#00008f" stroke="#102010" stroke-opacity=".35" stroke-width=".35"/>
<rect x="170.24" y="849.62" width="26.5" height="12.08" fill="#800000" stroke="#102010" stroke-opacity=".35" stroke-width=".35"/>
<rect x="170.24" y="861.69" width="26.5" height="18.11" fill="#ff7000" stroke="#102010" stroke-opacity=".35" stroke-width=".35"/>
<rect x="170.24" y="879.8" width="26.5" height="12.63" fill="#8fff6f" stroke="#102010" stroke-opacity=".35" stroke-width=".35"/>
<rect x="170.24" y="892.44" width="26.5" height="11.18" fill="#0090ff" stroke="#102010" stroke-opacity=".35" stroke-width=".35"/>
<rect x="170.24" y="903.62" width="26.5" height="11.18" fill="#00008f" stroke="#102010" stroke-opacity=".35" stroke-width=".35"/>
<line x1="129.99" y1="849.62" x2="137.03" y2="849.62" stroke="#1c1cd6" stroke-width="1.35"/>
<line x1="129.99" y1="870.41" x2="137.03" y2="870.86" stroke="#1c1cd6" stroke-width="1.35"/>
<line x1="129.99" y1="872.09" x2="137.03" y2="872.09" stroke="#1c1cd6" stroke-width="1.35"/>
<line x1="129.99" y1="873.65" x2="137.03" y2="895.46" stroke="#1c1cd6" stroke-width="1.35"/>
<line x1="129.99" y1="880.7" x2="137.03" y2="909.99" stroke="#1c1cd6" stroke-width="1.35"/>
<line x1="163.53" y1="849.62" x2="170.24" y2="849.62" stroke="#1c1cd6" stroke-width="1.35"/>
<line x1="163.53" y1="870.86" x2="170.24" y2="861.69" stroke="#1c1cd6" stroke-width="1.35"/>
<line x1="163.53" y1="872.09" x2="170.24" y2="879.8" stroke="#1c1cd6" stroke-width="1.35"/>
<line x1="163.53" y1="895.46" x2="170.24" y2="892.44" stroke="#1c1cd6" stroke-width="1.35"/>
<line x1="163.53" y1="909.99" x2="170.24" y2="903.62" stroke="#1c1cd6" stroke-width="1.35"/>
<rect x="230.1" y="835.1" width="127.5" height="94.4" fill="#b9babf"/>
<rect x="224.1" y="829.6" width="129.2" height="95.3" fill="#cdcdcd"/>
<path d="M226.6 924.9H353.3V831.1" fill="none" stroke="#222" stroke-opacity=".75" stroke-width="1"/>
<path d="M224.1 829.6H353.3" fill="none" stroke="#8a8a8a" stroke-opacity=".6" stroke-width=".8"/>
<rect x="241.5" y="836.5" width="100" height="78.3" fill="#fff" stroke="#bdbdbd" stroke-width=".5"/>
<g font-family='"Liberation Sans", sans-serif' fill="#333" fill-opacity=".72">
<text x="258.1" y="918.7" text-anchor="middle" font-size="3.3">1</text>
<path d="M258.1 914.8v-1M258.1 836.5v1" stroke="#555" stroke-width=".4" stroke-opacity=".7"/>
<text x="291.5" y="918.7" text-anchor="middle" font-size="3.3">2</text>
<path d="M291.5 914.8v-1M291.5 836.5v1" stroke="#555" stroke-width=".4" stroke-opacity=".7"/>
<text x="324.9" y="918.7" text-anchor="middle" font-size="3.3">3</text>
<path d="M324.9 914.8v-1M324.9 836.5v1" stroke="#555" stroke-width=".4" stroke-opacity=".7"/>
<text x="240.3" y="915.9" text-anchor="end" font-size="3.3">0</text>
<path d="M241.5 914.8h1M341.5 914.8h-1" stroke="#555" stroke-width=".4" stroke-opacity=".7"/>
<text x="240.3" y="902.85" text-anchor="end" font-size="3.3">0.5</text>
<path d="M241.5 901.75h1M341.5 901.75h-1" stroke="#555" stroke-width=".4" stroke-opacity=".7"/>
<text x="240.3" y="889.8" text-anchor="end" font-size="3.3">1</text>
<path d="M241.5 888.7h1M341.5 888.7h-1" stroke="#555" stroke-width=".4" stroke-opacity=".7"/>
<text x="240.3" y="876.75" text-anchor="end" font-size="3.3">1.5</text>
<path d="M241.5 875.65h1M341.5 875.65h-1" stroke="#555" stroke-width=".4" stroke-opacity=".7"/>
<text x="240.3" y="863.7" text-anchor="end" font-size="3.3">2</text>
<path d="M241.5 862.6h1M341.5 862.6h-1" stroke="#555" stroke-width=".4" stroke-opacity=".7"/>
<text x="240.3" y="850.65" text-anchor="end" font-size="3.3">2.5</text>
<path d="M241.5 849.55h1M341.5 849.55h-1" stroke="#555" stroke-width=".4" stroke-opacity=".7"/>
<text x="240.3" y="837.6" text-anchor="end" font-size="3.3">3</text>
<path d="M241.5 836.5h1M341.5 836.5h-1" stroke="#555" stroke-width=".4" stroke-opacity=".7"/>
</g>
<rect x="244.27" y="848.5" width="26.5" height="0.89" fill="#800000" stroke="#102010" stroke-opacity=".35" stroke-width=".35"/>
<rect x="244.27" y="849.39" width="26.5" height="9.5" fill="#ff7000" stroke="#102010" stroke-opacity=".35" stroke-width=".35"/>
<rect x="244.27" y="858.9" width="26.5" height="26.05" fill="#8fff6f" stroke="#102010" stroke-opacity=".35" stroke-width=".35"/>
<rect x="244.27" y="884.95" width="26.5" height="16.77" fill="#0090ff" stroke="#102010" stroke-opacity=".35" stroke-width=".35"/>
<rect x="244.27" y="901.72" width="26.5" height="13.08" fill="#00008f" stroke="#102010" stroke-opacity=".35" stroke-width=".35"/>
<rect x="278.04" y="836.53" width="26.61" height="21.02" fill="#800000" stroke="#102010" stroke-opacity=".35" stroke-width=".35"/>
<rect x="278.04" y="857.55" width="26.61" height="18.45" fill="#ff7000" stroke="#102010" stroke-opacity=".35" stroke-width=".35"/>
<rect x="278.04" y="876" width="26.61" height="6.93" fill="#8fff6f" stroke="#102010" stroke-opacity=".35" stroke-width=".35"/>
<rect x="278.04" y="882.93" width="26.61" height="13.98" fill="#0090ff" stroke="#102010" stroke-opacity=".35" stroke-width=".35"/>
<rect x="278.04" y="896.91" width="26.61" height="17.89" fill="#00008f" stroke="#102010" stroke-opacity=".35" stroke-width=".35"/>
<rect x="311.36" y="863.93" width="26.5" height="9.5" fill="#800000" stroke="#102010" stroke-opacity=".35" stroke-width=".35"/>
<rect x="311.36" y="873.43" width="26.5" height="2.8" fill="#ff7000" stroke="#102010" stroke-opacity=".35" stroke-width=".35"/>
<rect x="311.36" y="876.23" width="26.5" height="13.64" fill="#8fff6f" stroke="#102010" stroke-opacity=".35" stroke-width=".35"/>
<rect x="311.36" y="889.87" width="26.5" height="9.06" fill="#0090ff" stroke="#102010" stroke-opacity=".35" stroke-width=".35"/>
<rect x="311.36" y="898.92" width="26.5" height="15.88" fill="#00008f" stroke="#102010" stroke-opacity=".35" stroke-width=".35"/>
<line x1="270.77" y1="848.5" x2="278.04" y2="836.53" stroke="#1c1cd6" stroke-width="1.35"/>
<line x1="270.77" y1="849.39" x2="278.04" y2="857.55" stroke="#1c1cd6" stroke-width="1.35"/>
<line x1="270.77" y1="858.9" x2="278.04" y2="876" stroke="#1c1cd6" stroke-width="1.35"/>
<line x1="270.77" y1="884.95" x2="278.04" y2="882.93" stroke="#1c1cd6" stroke-width="1.35"/>
<line x1="270.77" y1="901.72" x2="278.04" y2="896.91" stroke="#1c1cd6" stroke-width="1.35"/>
<line x1="304.65" y1="836.53" x2="311.36" y2="863.93" stroke="#1c1cd6" stroke-width="1.35"/>
<line x1="304.65" y1="857.55" x2="311.36" y2="873.43" stroke="#1c1cd6" stroke-width="1.35"/>
<line x1="304.65" y1="876" x2="311.36" y2="876.23" stroke="#1c1cd6" stroke-width="1.35"/>
<line x1="304.65" y1="882.93" x2="311.36" y2="889.87" stroke="#1c1cd6" stroke-width="1.35"/>
<line x1="304.65" y1="896.91" x2="311.36" y2="898.92" stroke="#1c1cd6" stroke-width="1.35"/>
<rect x="371.3" y="835.1" width="127.4" height="94.4" fill="#b9babf"/>
<rect x="365.3" y="829.6" width="129.1" height="95.3" fill="#cdcdcd"/>
<path d="M367.8 924.9H494.4V831.1" fill="none" stroke="#222" stroke-opacity=".75" stroke-width="1"/>
<path d="M365.3 829.6H494.4" fill="none" stroke="#8a8a8a" stroke-opacity=".6" stroke-width=".8"/>
<rect x="382" y="837.7" width="100.3" height="77.1" fill="#fff" stroke="#bdbdbd" stroke-width=".5"/>
<g font-family='"Liberation Sans", sans-serif' fill="#333" fill-opacity=".72">
<text x="387.28" y="918.7" text-anchor="middle" font-size="3.3">2</text>
<path d="M387.28 914.8v-1M387.28 837.7v1" stroke="#555" stroke-width=".4" stroke-opacity=".7"/>
<text x="397.84" y="918.7" text-anchor="middle" font-size="3.3">4</text>
<path d="M397.84 914.8v-1M397.84 837.7v1" stroke="#555" stroke-width=".4" stroke-opacity=".7"/>
<text x="408.39" y="918.7" text-anchor="middle" font-size="3.3">6</text>
<path d="M408.39 914.8v-1M408.39 837.7v1" stroke="#555" stroke-width=".4" stroke-opacity=".7"/>
<text x="418.95" y="918.7" text-anchor="middle" font-size="3.3">8</text>
<path d="M418.95 914.8v-1M418.95 837.7v1" stroke="#555" stroke-width=".4" stroke-opacity=".7"/>
<text x="429.51" y="918.7" text-anchor="middle" font-size="3.3">10</text>
<path d="M429.51 914.8v-1M429.51 837.7v1" stroke="#555" stroke-width=".4" stroke-opacity=".7"/>
<text x="440.07" y="918.7" text-anchor="middle" font-size="3.3">12</text>
<path d="M440.07 914.8v-1M440.07 837.7v1" stroke="#555" stroke-width=".4" stroke-opacity=".7"/>
<text x="450.63" y="918.7" text-anchor="middle" font-size="3.3">14</text>
<path d="M450.63 914.8v-1M450.63 837.7v1" stroke="#555" stroke-width=".4" stroke-opacity=".7"/>
<text x="461.18" y="918.7" text-anchor="middle" font-size="3.3">16</text>
<path d="M461.18 914.8v-1M461.18 837.7v1" stroke="#555" stroke-width=".4" stroke-opacity=".7"/>
<text x="471.74" y="918.7" text-anchor="middle" font-size="3.3">18</text>
<path d="M471.74 914.8v-1M471.74 837.7v1" stroke="#555" stroke-width=".4" stroke-opacity=".7"/>
<text x="482.3" y="918.7" text-anchor="middle" font-size="3.3">20</text>
<path d="M482.3 914.8v-1M482.3 837.7v1" stroke="#555" stroke-width=".4" stroke-opacity=".7"/>
<text x="380.8" y="915.9" text-anchor="end" font-size="3.3">0</text>
<path d="M382 914.8h1M482.3 914.8h-1" stroke="#555" stroke-width=".4" stroke-opacity=".7"/>
<text x="380.8" y="908.19" text-anchor="end" font-size="3.3">0.1</text>
<path d="M382 907.09h1M482.3 907.09h-1" stroke="#555" stroke-width=".4" stroke-opacity=".7"/>
<text x="380.8" y="900.48" text-anchor="end" font-size="3.3">0.2</text>
<path d="M382 899.38h1M482.3 899.38h-1" stroke="#555" stroke-width=".4" stroke-opacity=".7"/>
<text x="380.8" y="892.77" text-anchor="end" font-size="3.3">0.3</text>
<path d="M382 891.67h1M482.3 891.67h-1" stroke="#555" stroke-width=".4" stroke-opacity=".7"/>
<text x="380.8" y="885.06" text-anchor="end" font-size="3.3">0.4</text>
<path d="M382 883.96h1M482.3 883.96h-1" stroke="#555" stroke-width=".4" stroke-opacity=".7"/>
<text x="380.8" y="877.35" text-anchor="end" font-size="3.3">0.5</text>
<path d="M382 876.25h1M482.3 876.25h-1" stroke="#555" stroke-width=".4" stroke-opacity=".7"/>
<text x="380.8" y="869.64" text-anchor="end" font-size="3.3">0.6</text>
<path d="M382 868.54h1M482.3 868.54h-1" stroke="#555" stroke-width=".4" stroke-opacity=".7"/>
<text x="380.8" y="861.93" text-anchor="end" font-size="3.3">0.7</text>
<path d="M382 860.83h1M482.3 860.83h-1" stroke="#555" stroke-width=".4" stroke-opacity=".7"/>
<text x="380.8" y="854.22" text-anchor="end" font-size="3.3">0.8</text>
<path d="M382 853.12h1M482.3 853.12h-1" stroke="#555" stroke-width=".4" stroke-opacity=".7"/>
<text x="380.8" y="846.51" text-anchor="end" font-size="3.3">0.9</text>
<path d="M382 845.41h1M482.3 845.41h-1" stroke="#555" stroke-width=".4" stroke-opacity=".7"/>
<text x="380.8" y="838.8" text-anchor="end" font-size="3.3">1</text>
<path d="M382 837.7h1M482.3 837.7h-1" stroke="#555" stroke-width=".4" stroke-opacity=".7"/>
</g>
<polygon points="382.04,838.21 387.32,838.21 392.6,838.21 397.87,838.21 403.15,838.21 408.43,838.21 413.71,838.21 418.99,838.21 424.27,838.21 429.54,838.21 434.82,838.21 440.1,838.21 445.38,838.21 450.66,838.21 455.94,838.21 461.22,838.21 466.49,838.21 471.77,838.21 477.05,838.21 482.33,838.21 482.33,914.8 382.04,914.8" fill="#800000" stroke="#800000" stroke-width=".3"/>
<polygon points="382.04,847.72 387.32,859.46 392.6,852.19 397.87,864.49 403.15,848.27 408.43,861.69 413.71,854.42 418.99,853.31 424.27,867.84 429.54,861.13 434.82,849.39 440.1,862.25 445.38,854.42 450.66,842.13 455.94,853.86 461.22,838.77 466.49,840.45 471.77,857.78 477.05,856.66 482.33,852.19 482.33,914.8 382.04,914.8" fill="#ff7000" stroke="#ff7000" stroke-width=".3"/>
<polygon points="382.04,863.93 387.32,877.9 392.6,867.28 397.87,878.46 403.15,857.22 408.43,881.26 413.71,874.55 418.99,869.52 424.27,874.55 429.54,887.41 434.82,851.63 440.1,874.55 445.38,877.9 450.66,861.13 455.94,886.85 461.22,872.31 466.49,856.66 471.77,876.79 477.05,860.57 482.33,870.64 482.33,914.8 382.04,914.8" fill="#8fff6f" stroke="#8fff6f" stroke-width=".3"/>
<polygon points="382.04,891.88 387.32,883.27 392.6,882.93 397.87,890.76 403.15,882.38 408.43,886.85 413.71,876.79 418.99,870.08 424.27,889.64 429.54,895.79 434.82,873.43 440.1,876.79 445.38,887.97 450.66,882.93 455.94,908.09 461.22,903.62 466.49,872.87 471.77,892.44 477.05,861.13 482.33,891.32 482.33,914.8 382.04,914.8" fill="#0090ff" stroke="#0090ff" stroke-width=".3"/>
<polygon points="382.04,904.74 387.32,901.94 392.6,886.29 397.87,900.26 403.15,903.62 408.43,908.09 413.71,898.59 418.99,896.69 424.27,909.54 429.54,905.3 434.82,890.98 440.1,900.6 445.38,893 450.66,902.5 455.94,911.45 461.22,907.53 466.49,897.47 471.77,899.15 477.05,881.26 482.33,900.26 482.33,914.8 382.04,914.8" fill="#00008f" stroke="#00008f" stroke-width=".3"/>
<rect x="512.4" y="835.1" width="127.6" height="94.4" fill="#b9babf"/>
<rect x="506.4" y="829.6" width="129.3" height="95.3" fill="#cdcdcd"/>
<path d="M508.9 924.9H635.7V831.1" fill="none" stroke="#222" stroke-opacity=".75" stroke-width="1"/>
<path d="M506.4 829.6H635.7" fill="none" stroke="#8a8a8a" stroke-opacity=".6" stroke-width=".8"/>
<rect x="523.2" y="836.5" width="100.2" height="78.3" fill="#fff" stroke="#bdbdbd" stroke-width=".5"/>
<g font-family='"Liberation Sans", sans-serif' fill="#333" fill-opacity=".72">
<text x="528.47" y="918.7" text-anchor="middle" font-size="3.3">2</text>
<path d="M528.47 914.8v-1M528.47 836.5v1" stroke="#555" stroke-width=".4" stroke-opacity=".7"/>
<text x="539.02" y="918.7" text-anchor="middle" font-size="3.3">4</text>
<path d="M539.02 914.8v-1M539.02 836.5v1" stroke="#555" stroke-width=".4" stroke-opacity=".7"/>
<text x="549.57" y="918.7" text-anchor="middle" font-size="3.3">6</text>
<path d="M549.57 914.8v-1M549.57 836.5v1" stroke="#555" stroke-width=".4" stroke-opacity=".7"/>
<text x="560.12" y="918.7" text-anchor="middle" font-size="3.3">8</text>
<path d="M560.12 914.8v-1M560.12 836.5v1" stroke="#555" stroke-width=".4" stroke-opacity=".7"/>
<text x="570.66" y="918.7" text-anchor="middle" font-size="3.3">10</text>
<path d="M570.66 914.8v-1M570.66 836.5v1" stroke="#555" stroke-width=".4" stroke-opacity=".7"/>
<text x="581.21" y="918.7" text-anchor="middle" font-size="3.3">12</text>
<path d="M581.21 914.8v-1M581.21 836.5v1" stroke="#555" stroke-width=".4" stroke-opacity=".7"/>
<text x="591.76" y="918.7" text-anchor="middle" font-size="3.3">14</text>
<path d="M591.76 914.8v-1M591.76 836.5v1" stroke="#555" stroke-width=".4" stroke-opacity=".7"/>
<text x="602.31" y="918.7" text-anchor="middle" font-size="3.3">16</text>
<path d="M602.31 914.8v-1M602.31 836.5v1" stroke="#555" stroke-width=".4" stroke-opacity=".7"/>
<text x="612.85" y="918.7" text-anchor="middle" font-size="3.3">18</text>
<path d="M612.85 914.8v-1M612.85 836.5v1" stroke="#555" stroke-width=".4" stroke-opacity=".7"/>
<text x="623.4" y="918.7" text-anchor="middle" font-size="3.3">20</text>
<path d="M623.4 914.8v-1M623.4 836.5v1" stroke="#555" stroke-width=".4" stroke-opacity=".7"/>
<text x="522" y="915.9" text-anchor="end" font-size="3.3">0</text>
<path d="M523.2 914.8h1M623.4 914.8h-1" stroke="#555" stroke-width=".4" stroke-opacity=".7"/>
<text x="522" y="907.2" text-anchor="end" font-size="3.3">0.5</text>
<path d="M523.2 906.1h1M623.4 906.1h-1" stroke="#555" stroke-width=".4" stroke-opacity=".7"/>
<text x="522" y="898.5" text-anchor="end" font-size="3.3">1</text>
<path d="M523.2 897.4h1M623.4 897.4h-1" stroke="#555" stroke-width=".4" stroke-opacity=".7"/>
<text x="522" y="889.8" text-anchor="end" font-size="3.3">1.5</text>
<path d="M523.2 888.7h1M623.4 888.7h-1" stroke="#555" stroke-width=".4" stroke-opacity=".7"/>
<text x="522" y="881.1" text-anchor="end" font-size="3.3">2</text>
<path d="M523.2 880h1M623.4 880h-1" stroke="#555" stroke-width=".4" stroke-opacity=".7"/>
<text x="522" y="872.4" text-anchor="end" font-size="3.3">2.5</text>
<path d="M523.2 871.3h1M623.4 871.3h-1" stroke="#555" stroke-width=".4" stroke-opacity=".7"/>
<text x="522" y="863.7" text-anchor="end" font-size="3.3">3</text>
<path d="M523.2 862.6h1M623.4 862.6h-1" stroke="#555" stroke-width=".4" stroke-opacity=".7"/>
<text x="522" y="855" text-anchor="end" font-size="3.3">3.5</text>
<path d="M523.2 853.9h1M623.4 853.9h-1" stroke="#555" stroke-width=".4" stroke-opacity=".7"/>
<text x="522" y="846.3" text-anchor="end" font-size="3.3">4</text>
<path d="M523.2 845.2h1M623.4 845.2h-1" stroke="#555" stroke-width=".4" stroke-opacity=".7"/>
<text x="522" y="837.6" text-anchor="end" font-size="3.3">4.5</text>
<path d="M523.2 836.5h1M623.4 836.5h-1" stroke="#555" stroke-width=".4" stroke-opacity=".7"/>
</g>
<polygon points="523.16,876.79 528.43,893.56 533.71,864.49 538.99,867.28 544.27,886.85 549.55,853.86 554.83,862.81 560.11,843.24 565.38,863.93 570.66,874.55 575.94,877.9 581.22,864.49 586.5,874.55 591.78,863.93 597.05,890.76 602.33,871.75 607.61,881.26 612.89,874.55 618.17,855.54 623.45,874.55 623.45,914.8 523.16,914.8" fill="#800000" stroke="#800000" stroke-width=".3"/>
<polygon points="523.16,884.61 528.43,900.26 533.71,872.31 538.99,873.99 544.27,893.56 549.55,864.49 554.83,866.16 560.11,856.1 565.38,875.11 570.66,879.02 575.94,893.56 581.22,871.19 586.5,887.97 591.78,873.43 597.05,894.67 602.33,874.55 607.61,890.2 612.89,884.05 618.17,866.72 623.45,884.61 623.45,914.8 523.16,914.8" fill="#ff7000" stroke="#ff7000" stroke-width=".3"/>
<polygon points="523.16,887.97 528.43,901.94 533.71,884.05 538.99,887.41 544.27,899.15 549.55,879.58 554.83,881.26 560.11,873.43 565.38,879.02 570.66,886.29 575.94,905.86 581.22,880.14 586.5,890.76 591.78,876.79 597.05,899.15 602.33,882.38 607.61,895.79 612.89,890.2 618.17,875.67 623.45,893.56 623.45,914.8 523.16,914.8" fill="#8fff6f" stroke="#8fff6f" stroke-width=".3"/>
<polygon points="523.16,900.26 528.43,904.74 533.71,892.44 538.99,901.38 544.27,901.94 549.55,893 554.83,894.12 560.11,889.08 565.38,893.56 570.66,899.15 575.94,908.65 581.22,893.56 586.5,898.03 591.78,891.32 597.05,902.5 602.33,889.64 607.61,898.59 612.89,892.44 618.17,889.64 623.45,899.15 623.45,914.8 523.16,914.8" fill="#0090ff" stroke="#0090ff" stroke-width=".3"/>
<polygon points="523.16,907.53 528.43,910.89 533.71,905.3 538.99,908.65 544.27,913.68 549.55,900.26 554.83,908.09 560.11,903.62 565.38,901.94 570.66,913.12 575.94,910.33 581.22,907.53 586.5,909.77 591.78,899.15 597.05,908.65 602.33,898.59 607.61,902.5 612.89,899.71 618.17,900.82 623.45,900.82 623.45,914.8 523.16,914.8" fill="#00008f" stroke="#00008f" stroke-width=".3"/>
<rect x="653.3" y="834" width="127.4" height="94.9" fill="#b9babf"/>
<rect x="647.3" y="828.5" width="129.1" height="95.8" fill="#cdcdcd"/>
<path d="M649.8 924.3H776.4V830" fill="none" stroke="#222" stroke-opacity=".75" stroke-width="1"/>
<path d="M647.3 828.5H776.4" fill="none" stroke="#8a8a8a" stroke-opacity=".6" stroke-width=".8"/>
<ellipse cx="714" cy="874.6" rx="31" ry="32.6" fill="#800000"/>
<path d="M714 874.6V842A31 32.6 0 0 0 683 874.6Z" fill="#00008f"/>
<rect x="795.3" y="834" width="127.4" height="94.9" fill="#b9babf"/>
<rect x="789.3" y="828.5" width="129.1" height="95.8" fill="#cdcdcd"/>
<path d="M791.8 924.3H918.4V830" fill="none" stroke="#222" stroke-opacity=".75" stroke-width="1"/>
<path d="M789.3 828.5H918.4" fill="none" stroke="#8a8a8a" stroke-opacity=".6" stroke-width=".8"/>
<rect x="806.4" y="835.6" width="99.9" height="78.3" fill="#fff" stroke="#bdbdbd" stroke-width=".5"/>
<g font-family='"Liberation Sans", sans-serif' fill="#333" fill-opacity=".72">
<text x="806.4" y="917.8" text-anchor="middle" font-size="3.3">0</text>
<path d="M806.4 913.9v-1M806.4 835.6v1" stroke="#555" stroke-width=".4" stroke-opacity=".7"/>
<text x="817.5" y="917.8" text-anchor="middle" font-size="3.3">1</text>
<path d="M817.5 913.9v-1M817.5 835.6v1" stroke="#555" stroke-width=".4" stroke-opacity=".7"/>
<text x="828.6" y="917.8" text-anchor="middle" font-size="3.3">2</text>
<path d="M828.6 913.9v-1M828.6 835.6v1" stroke="#555" stroke-width=".4" stroke-opacity=".7"/>
<text x="839.7" y="917.8" text-anchor="middle" font-size="3.3">3</text>
<path d="M839.7 913.9v-1M839.7 835.6v1" stroke="#555" stroke-width=".4" stroke-opacity=".7"/>
<text x="850.8" y="917.8" text-anchor="middle" font-size="3.3">4</text>
<path d="M850.8 913.9v-1M850.8 835.6v1" stroke="#555" stroke-width=".4" stroke-opacity=".7"/>
<text x="861.9" y="917.8" text-anchor="middle" font-size="3.3">5</text>
<path d="M861.9 913.9v-1M861.9 835.6v1" stroke="#555" stroke-width=".4" stroke-opacity=".7"/>
<text x="873" y="917.8" text-anchor="middle" font-size="3.3">6</text>
<path d="M873 913.9v-1M873 835.6v1" stroke="#555" stroke-width=".4" stroke-opacity=".7"/>
<text x="884.1" y="917.8" text-anchor="middle" font-size="3.3">7</text>
<path d="M884.1 913.9v-1M884.1 835.6v1" stroke="#555" stroke-width=".4" stroke-opacity=".7"/>
<text x="895.2" y="917.8" text-anchor="middle" font-size="3.3">8</text>
<path d="M895.2 913.9v-1M895.2 835.6v1" stroke="#555" stroke-width=".4" stroke-opacity=".7"/>
<text x="906.3" y="917.8" text-anchor="middle" font-size="3.3">9</text>
<path d="M906.3 913.9v-1M906.3 835.6v1" stroke="#555" stroke-width=".4" stroke-opacity=".7"/>
<text x="805.2" y="915" text-anchor="end" font-size="3.3">0</text>
<path d="M806.4 913.9h1M906.3 913.9h-1" stroke="#555" stroke-width=".4" stroke-opacity=".7"/>
<text x="805.2" y="907.17" text-anchor="end" font-size="3.3">0.5</text>
<path d="M806.4 906.07h1M906.3 906.07h-1" stroke="#555" stroke-width=".4" stroke-opacity=".7"/>
<text x="805.2" y="899.34" text-anchor="end" font-size="3.3">1</text>
<path d="M806.4 898.24h1M906.3 898.24h-1" stroke="#555" stroke-width=".4" stroke-opacity=".7"/>
<text x="805.2" y="891.51" text-anchor="end" font-size="3.3">1.5</text>
<path d="M806.4 890.41h1M906.3 890.41h-1" stroke="#555" stroke-width=".4" stroke-opacity=".7"/>
<text x="805.2" y="883.68" text-anchor="end" font-size="3.3">2</text>
<path d="M806.4 882.58h1M906.3 882.58h-1" stroke="#555" stroke-width=".4" stroke-opacity=".7"/>
<text x="805.2" y="875.85" text-anchor="end" font-size="3.3">2.5</text>
<path d="M806.4 874.75h1M906.3 874.75h-1" stroke="#555" stroke-width=".4" stroke-opacity=".7"/>
<text x="805.2" y="868.02" text-anchor="end" font-size="3.3">3</text>
<path d="M806.4 866.92h1M906.3 866.92h-1" stroke="#555" stroke-width=".4" stroke-opacity=".7"/>
<text x="805.2" y="860.19" text-anchor="end" font-size="3.3">3.5</text>
<path d="M806.4 859.09h1M906.3 859.09h-1" stroke="#555" stroke-width=".4" stroke-opacity=".7"/>
<text x="805.2" y="852.36" text-anchor="end" font-size="3.3">4</text>
<path d="M806.4 851.26h1M906.3 851.26h-1" stroke="#555" stroke-width=".4" stroke-opacity=".7"/>
<text x="805.2" y="844.53" text-anchor="end" font-size="3.3">4.5</text>
<path d="M806.4 843.43h1M906.3 843.43h-1" stroke="#555" stroke-width=".4" stroke-opacity=".7"/>
<text x="805.2" y="836.7" text-anchor="end" font-size="3.3">5</text>
<path d="M806.4 835.6h1M906.3 835.6h-1" stroke="#555" stroke-width=".4" stroke-opacity=".7"/>
</g>
<rect x="814.15" y="898.25" width="6.66" height="15.65" fill="#0000b4"/>
<rect x="825.25" y="866.95" width="6.66" height="31.31" fill="#00b400"/>
<rect x="836.36" y="851.29" width="6.66" height="15.65" fill="#00b400"/>
<rect x="847.47" y="851.29" width="6.66" height="31.31" fill="#b40000"/>
<rect x="858.57" y="835.64" width="6.66" height="46.96" fill="#00b400"/>
<rect x="869.68" y="835.64" width="6.66" height="31.31" fill="#b40000"/>
<rect x="880.78" y="851.29" width="6.66" height="15.65" fill="#00b400"/>
<rect x="891.89" y="851.29" width="6.66" height="62.61" fill="#0000b4"/>
<line x1="820.81" y1="898.25" x2="825.25" y2="898.25" stroke="#1a1a1a" stroke-width="1.25"/>
<line x1="831.92" y1="866.95" x2="836.36" y2="866.95" stroke="#1a1a1a" stroke-width="1.25"/>
<line x1="843.02" y1="851.29" x2="847.47" y2="851.29" stroke="#1a1a1a" stroke-width="1.25"/>
<line x1="854.13" y1="882.6" x2="858.57" y2="882.6" stroke="#1a1a1a" stroke-width="1.25"/>
<line x1="865.23" y1="835.64" x2="869.68" y2="835.64" stroke="#1a1a1a" stroke-width="1.25"/>
<line x1="876.34" y1="866.95" x2="880.78" y2="866.95" stroke="#1a1a1a" stroke-width="1.25"/>
<line x1="887.45" y1="851.29" x2="891.89" y2="851.29" stroke="#1a1a1a" stroke-width="1.25"/>
<rect x="935.3" y="834" width="127.4" height="94.9" fill="#b9babf"/>
<rect x="929.3" y="828.5" width="129.1" height="95.8" fill="#cdcdcd"/>
<path d="M931.8 924.3H1058.4V830" fill="none" stroke="#222" stroke-opacity=".75" stroke-width="1"/>
<path d="M929.3 828.5H1058.4" fill="none" stroke="#8a8a8a" stroke-opacity=".6" stroke-width=".8"/>
<rect x="946" y="835.6" width="100.3" height="78.3" fill="#fff" stroke="#bdbdbd" stroke-width=".5"/>
<g font-family='"Liberation Sans", sans-serif' fill="#333" fill-opacity=".72">
<text x="962.65" y="917.8" text-anchor="middle" font-size="3.3">1</text>
<path d="M962.65 913.9v-1M962.65 835.6v1" stroke="#555" stroke-width=".4" stroke-opacity=".7"/>
<text x="996.15" y="917.8" text-anchor="middle" font-size="3.3">2</text>
<path d="M996.15 913.9v-1M996.15 835.6v1" stroke="#555" stroke-width=".4" stroke-opacity=".7"/>
<text x="1029.65" y="917.8" text-anchor="middle" font-size="3.3">3</text>
<path d="M1029.65 913.9v-1M1029.65 835.6v1" stroke="#555" stroke-width=".4" stroke-opacity=".7"/>
<text x="944.8" y="915" text-anchor="end" font-size="3.3">0</text>
<path d="M946 913.9h1M1046.3 913.9h-1" stroke="#555" stroke-width=".4" stroke-opacity=".7"/>
<text x="944.8" y="903.81" text-anchor="end" font-size="3.3">0.5</text>
<path d="M946 902.71h1M1046.3 902.71h-1" stroke="#555" stroke-width=".4" stroke-opacity=".7"/>
<text x="944.8" y="892.63" text-anchor="end" font-size="3.3">1</text>
<path d="M946 891.53h1M1046.3 891.53h-1" stroke="#555" stroke-width=".4" stroke-opacity=".7"/>
<text x="944.8" y="881.44" text-anchor="end" font-size="3.3">1.5</text>
<path d="M946 880.34h1M1046.3 880.34h-1" stroke="#555" stroke-width=".4" stroke-opacity=".7"/>
<text x="944.8" y="870.26" text-anchor="end" font-size="3.3">2</text>
<path d="M946 869.16h1M1046.3 869.16h-1" stroke="#555" stroke-width=".4" stroke-opacity=".7"/>
<text x="944.8" y="859.07" text-anchor="end" font-size="3.3">2.5</text>
<path d="M946 857.97h1M1046.3 857.97h-1" stroke="#555" stroke-width=".4" stroke-opacity=".7"/>
<text x="944.8" y="847.89" text-anchor="end" font-size="3.3">3</text>
<path d="M946 846.79h1M1046.3 846.79h-1" stroke="#555" stroke-width=".4" stroke-opacity=".7"/>
<text x="944.8" y="836.7" text-anchor="end" font-size="3.3">3.5</text>
<path d="M946 835.6h1M1046.3 835.6h-1" stroke="#555" stroke-width=".4" stroke-opacity=".7"/>
</g>
<rect x="949.39" y="839.67" width="26.83" height="74.24" fill="#fff" stroke="#9a9a9a" stroke-width=".55"/>
<line x1="949.39" y1="860.35" x2="976.23" y2="860.35" stroke="#9a9a9a" stroke-width="0.55"/>
<line x1="949.39" y1="879.58" x2="976.23" y2="879.58" stroke="#9a9a9a" stroke-width="0.55"/>
<line x1="949.39" y1="891.88" x2="976.23" y2="891.88" stroke="#9a9a9a" stroke-width="0.55"/>
<rect x="949.39" y="891.88" width="26.83" height="22.03" fill="#ff0000"/>
<rect x="982.38" y="851.63" width="27.17" height="62.28" fill="#fff" stroke="#9a9a9a" stroke-width=".55"/>
<line x1="982.38" y1="863.59" x2="1009.54" y2="863.59" stroke="#9a9a9a" stroke-width="0.55"/>
<line x1="982.38" y1="875.44" x2="1009.54" y2="875.44" stroke="#9a9a9a" stroke-width="0.55"/>
<line x1="982.38" y1="889.42" x2="1009.54" y2="889.42" stroke="#9a9a9a" stroke-width="0.55"/>
<line x1="982.38" y1="907.53" x2="1009.54" y2="907.53" stroke="#9a9a9a" stroke-width="0.55"/>
<rect x="982.38" y="907.53" width="27.17" height="6.37" fill="#ff0000"/>
<rect x="1016.48" y="854.65" width="26.27" height="59.26" fill="#fff" stroke="#9a9a9a" stroke-width=".55"/>
<line x1="1016.48" y1="867.62" x2="1042.75" y2="867.62" stroke="#9a9a9a" stroke-width="0.55"/>
<line x1="1016.48" y1="871.19" x2="1042.75" y2="871.19" stroke="#9a9a9a" stroke-width="0.55"/>
<line x1="1016.48" y1="887.41" x2="1042.75" y2="887.41" stroke="#9a9a9a" stroke-width="0.55"/>
<line x1="1016.48" y1="892.21" x2="1042.75" y2="892.21" stroke="#9a9a9a" stroke-width="0.55"/>
<line x1="976.23" y1="891.88" x2="982.71" y2="851.63" stroke="#1c1cd6" stroke-width="1.4"/>
<line x1="1009.54" y1="907.53" x2="1016.48" y2="854.65" stroke="#1c1cd6" stroke-width="1.4"/>
<g shape-rendering="auto">
<line x1="147.8" y1="240.5" x2="147.8" y2="263.3" stroke="#444" stroke-width="1.2"/>
<line x1="147.8" y1="298.6" x2="147.8" y2="337.3" stroke="#444" stroke-width="1.2"/>
<line x1="147.2" y1="337.3" x2="362.1" y2="337.3" stroke="#111" stroke-width="1.2"/>
<line x1="361.5" y1="311.7" x2="361.5" y2="316.7" stroke="#111" stroke-width="1.6"/>
<line x1="361.5" y1="333" x2="361.5" y2="337.3" stroke="#444" stroke-width="1.2"/>
<line x1="290.1" y1="240.5" x2="290.1" y2="266.3" stroke="#111" stroke-width="1.3"/>
<line x1="290.1" y1="299.6" x2="290.1" y2="311.7" stroke="#111" stroke-width="1.3"/>
<line x1="289.5" y1="311.7" x2="503.1" y2="311.7" stroke="#111" stroke-width="1.2"/>
<line x1="219.8" y1="337.3" x2="219.8" y2="347" stroke="#111" stroke-width="1.8"/>
<line x1="219.8" y1="367.2" x2="219.8" y2="381.3" stroke="#777" stroke-width="1.1"/>
<line x1="219.3" y1="381.3" x2="924.9" y2="381.3" stroke="#111" stroke-width="1.1"/>
<line x1="431.5" y1="240.5" x2="431.5" y2="253.2" stroke="#111" stroke-width="1.2"/>
<line x1="431.5" y1="266.3" x2="431.5" y2="279.4" stroke="#111" stroke-width="1.2"/>
<line x1="572.2" y1="240" x2="572.2" y2="251" stroke="#111" stroke-width="1.4"/>
<line x1="572.2" y1="266.3" x2="572.2" y2="279.4" stroke="#111" stroke-width="1.2"/>
<line x1="430.9" y1="279.4" x2="572.8" y2="279.4" stroke="#111" stroke-width="1.2"/>
<line x1="502.5" y1="279.4" x2="502.5" y2="289.5" stroke="#777" stroke-width="1.2"/>
<line x1="502.5" y1="305.6" x2="502.5" y2="311.7" stroke="#777" stroke-width="1.2"/>
<line x1="713.5" y1="240" x2="713.5" y2="253" stroke="#444" stroke-width="1.1"/>
<line x1="713.5" y1="266.3" x2="713.5" y2="279.4" stroke="#111" stroke-width="1.1"/>
<line x1="854.4" y1="240" x2="854.4" y2="253" stroke="#111" stroke-width="1.5"/>
<line x1="854.4" y1="266.3" x2="854.4" y2="279.4" stroke="#777" stroke-width="1.1"/>
<line x1="713" y1="279.4" x2="855" y2="279.4" stroke="#111" stroke-width="1.2"/>
<line x1="784.7" y1="279.4" x2="784.7" y2="289.5" stroke="#777" stroke-width="1.3"/>
<line x1="784.7" y1="306" x2="784.7" y2="312.1" stroke="#777" stroke-width="1.3"/>
<line x1="784.1" y1="312.1" x2="1069.8" y2="312.1" stroke="#444" stroke-width="1.1"/>
<line x1="996.9" y1="240" x2="996.9" y2="249.7" stroke="#111" stroke-width="1.6"/>
<line x1="996.9" y1="267" x2="996.9" y2="279.5" stroke="#111" stroke-width="1.6"/>
<line x1="1138" y1="240" x2="1138" y2="250.5" stroke="#111" stroke-width="1.8"/>
<line x1="1138" y1="267" x2="1138" y2="279.5" stroke="#444" stroke-width="1.2"/>
<line x1="996.2" y1="279.5" x2="1138.6" y2="279.5" stroke="#444" stroke-width="1.2"/>
<line x1="1069.2" y1="279.5" x2="1069.2" y2="289.4" stroke="#777" stroke-width="1.3"/>
<line x1="1069.2" y1="306.8" x2="1069.2" y2="312.1" stroke="#777" stroke-width="1.3"/>
<line x1="924.3" y1="312.1" x2="924.3" y2="332.9" stroke="#111" stroke-width="1.1"/>
<line x1="924.3" y1="352.3" x2="924.3" y2="381.3" stroke="#111" stroke-width="1.1"/>
<line x1="641.7" y1="381.3" x2="641.7" y2="407.3" stroke="#777" stroke-width="1.1"/>
<line x1="641.7" y1="434.1" x2="641.7" y2="455.3" stroke="#777" stroke-width="1.1"/>
<line x1="641.9" y1="533.2" x2="641.9" y2="578.8" stroke="#777" stroke-width="1.1"/>
<line x1="641.9" y1="606" x2="641.9" y2="645.7" stroke="#444" stroke-width="1.1"/>
<rect x="531.6" y="455.3" width="223.8" height="77.9" fill="#fff" stroke="#666" stroke-width="1.1"/>
<line x1="516.1" y1="495.5" x2="531.6" y2="495.5" stroke="#777" stroke-width="1.1"/>
<line x1="285.9" y1="495.7" x2="390" y2="495.7" stroke="#777" stroke-width="1.1"/>
<line x1="755.4" y1="495.3" x2="773.5" y2="495.3" stroke="#777" stroke-width="1.1"/>
<line x1="902.7" y1="495.5" x2="959.2" y2="495.5" stroke="#777" stroke-width="1.1"/>
<line x1="211" y1="469" x2="286.5" y2="469" stroke="#000" stroke-width="1.9"/>
<line x1="212.5" y1="588.6" x2="286.5" y2="588.6" stroke="#000" stroke-width="1.9"/>
<line x1="285.9" y1="469" x2="285.9" y2="588.6" stroke="#777" stroke-width="1.1"/>
<line x1="959.2" y1="432.9" x2="959.2" y2="739" stroke="#444" stroke-width="1.1"/>
<line x1="959.2" y1="433.4" x2="1016.4" y2="433.4" stroke="#111" stroke-width="1.1"/>
<line x1="1015.9" y1="404.3" x2="1015.9" y2="515.5" stroke="#444" stroke-width="1.1"/>
<line x1="1015.9" y1="404.8" x2="1030.7" y2="404.8" stroke="#777" stroke-width="1.3"/>
<line x1="1062.2" y1="404.8" x2="1071.6" y2="404.8" stroke="#777" stroke-width="1.3"/>
<line x1="1015.9" y1="515" x2="1030.7" y2="515" stroke="#777" stroke-width="1.3"/>
<line x1="1062.2" y1="515" x2="1071.6" y2="515" stroke="#777" stroke-width="1.3"/>
<line x1="958.7" y1="629.7" x2="1007.8" y2="629.7" stroke="#000" stroke-width="2"/>
<line x1="1063.2" y1="629.7" x2="1071.6" y2="629.7" stroke="#000" stroke-width="2"/>
<line x1="959.2" y1="738.5" x2="1007.8" y2="738.5" stroke="#777" stroke-width="1.2"/>
<line x1="1063.2" y1="738.5" x2="1071.6" y2="738.5" stroke="#000" stroke-width="2"/>
<line x1="361" y1="645.7" x2="855.5" y2="645.7" stroke="#444" stroke-width="1.1"/>
<line x1="361.6" y1="645.7" x2="361.6" y2="673.8" stroke="#000" stroke-width="1.8"/>
<line x1="361.6" y1="706.1" x2="361.6" y2="749.2" stroke="#000" stroke-width="1.8"/>
<line x1="854.9" y1="645.7" x2="854.9" y2="674.3" stroke="#444" stroke-width="1.1"/>
<line x1="854.9" y1="692.4" x2="854.9" y2="776.6" stroke="#444" stroke-width="1.1"/>
<line x1="219" y1="749.2" x2="502.9" y2="749.2" stroke="#111" stroke-width="1.2"/>
<line x1="219.6" y1="749.2" x2="219.6" y2="778.3" stroke="#111" stroke-width="1.2"/>
<line x1="502.1" y1="749.2" x2="502.1" y2="778.3" stroke="#000" stroke-width="1.8"/>
<line x1="150.2" y1="778.3" x2="291.5" y2="778.3" stroke="#111" stroke-width="1.2"/>
<line x1="432.7" y1="778.3" x2="574.3" y2="778.3" stroke="#111" stroke-width="1.2"/>
<line x1="150.8" y1="778.3" x2="150.8" y2="793.5" stroke="#777" stroke-width="1.2"/>
<line x1="150.8" y1="824.7" x2="150.8" y2="829.8" stroke="#777" stroke-width="1.2"/>
<line x1="290.9" y1="778.3" x2="290.9" y2="793.5" stroke="#777" stroke-width="1.2"/>
<line x1="290.9" y1="824.7" x2="290.9" y2="829.8" stroke="#777" stroke-width="1.2"/>
<line x1="433.3" y1="778.3" x2="433.3" y2="793.5" stroke="#111" stroke-width="1.2"/>
<line x1="433.3" y1="824.7" x2="433.3" y2="829.8" stroke="#111" stroke-width="1.2"/>
<line x1="573.7" y1="778.3" x2="573.7" y2="793.5" stroke="#111" stroke-width="1.2"/>
<line x1="573.7" y1="824.7" x2="573.7" y2="829.8" stroke="#111" stroke-width="1.2"/>
<line x1="713.5" y1="776.6" x2="996.9" y2="776.6" stroke="#111" stroke-width="1.2"/>
<line x1="714.1" y1="776.6" x2="714.1" y2="791.2" stroke="#777" stroke-width="1.2"/>
<line x1="714.1" y1="823.7" x2="714.1" y2="828.7" stroke="#777" stroke-width="1.2"/>
<line x1="854.9" y1="776.6" x2="854.9" y2="791.2" stroke="#777" stroke-width="1.1"/>
<line x1="854.9" y1="823.7" x2="854.9" y2="828.7" stroke="#777" stroke-width="1.1"/>
<line x1="996.3" y1="776.6" x2="996.3" y2="791.2" stroke="#000" stroke-width="1.9"/>
<line x1="996.3" y1="823.7" x2="996.3" y2="828.7" stroke="#000" stroke-width="1.9"/>
<rect x="285" y="494.8" width="1.8" height="1.8" fill="#111"/>
<rect x="958.3" y="494.6" width="1.8" height="1.8" fill="#111"/>
<rect x="1015" y="403.9" width="1.8" height="1.8" fill="#111"/>
<rect x="1015" y="514.1" width="1.8" height="1.8" fill="#111"/>
<rect x="958.3" y="737.6" width="1.8" height="1.8" fill="#111"/>
<rect x="641" y="644.8" width="1.8" height="1.8" fill="#111"/>
<rect x="149.9" y="777.4" width="1.8" height="1.8" fill="#111"/>
<rect x="290" y="777.4" width="1.8" height="1.8" fill="#111"/>
<rect x="713.2" y="775.7" width="1.8" height="1.8" fill="#111"/>
<rect x="854" y="775.7" width="1.8" height="1.8" fill="#111"/>
<rect x="360.6" y="310.8" width="1.8" height="1.8" fill="#111"/>
<rect x="501.6" y="310.8" width="1.8" height="1.8" fill="#111"/>
<rect x="1068.3" y="311.2" width="1.8" height="1.8" fill="#111"/>
<rect x="783.8" y="311.2" width="1.8" height="1.8" fill="#111"/>
</g>
<g font-family='"Liberation Serif", serif' fill="#1f1f2b" stroke="#1f1f2b" stroke-width=".12">
<text y="112.5" font-size="36" style="stroke:#1f1f2b;stroke-width:.4px"><tspan x="365.8" textLength="83.2" lengthAdjust="spacingAndGlyphs">Chart</tspan> <tspan x="458.6" textLength="230.1" lengthAdjust="spacingAndGlyphs">Suggestions—A</tspan> <tspan x="692.9" textLength="228.3" lengthAdjust="spacingAndGlyphs">Thought-Starter</tspan></text>
<text x="113.5" y="276.6" font-size="14" textLength="72" lengthAdjust="spacingAndGlyphs">Two Variables</text>
<text x="126.2" y="292.6" font-size="14" textLength="43.5" lengthAdjust="spacingAndGlyphs">per Item</text>
<text x="275.4" y="276.6" font-size="14" textLength="30" lengthAdjust="spacingAndGlyphs">Many</text>
<text x="263" y="292.6" font-size="14" textLength="54.2" lengthAdjust="spacingAndGlyphs">Categories</text>
<text x="400.9" y="262.8" font-size="14" textLength="61.5" lengthAdjust="spacingAndGlyphs">Many Items</text>
<text x="546.5" y="262.8" font-size="14" textLength="52.2" lengthAdjust="spacingAndGlyphs">Few Items</text>
<text x="464.2" y="300.8" font-size="14" textLength="78" lengthAdjust="spacingAndGlyphs">Few Categories</text>
<text x="304" y="329.9" font-size="14" textLength="114" lengthAdjust="spacingAndGlyphs">One Variable per Item</text>
<text x="185.2" y="359.6" font-size="14" textLength="70" lengthAdjust="spacingAndGlyphs">Among Items</text>
<text x="678.8" y="262.8" font-size="14" textLength="70" lengthAdjust="spacingAndGlyphs">Cyclical Data</text>
<text x="805.9" y="262.8" font-size="14" textLength="98" lengthAdjust="spacingAndGlyphs">Non-Cyclical Data</text>
<text x="749.8" y="300.8" font-size="14" textLength="71.2" lengthAdjust="spacingAndGlyphs">Many Periods</text>
<text x="932.3" y="262.8" font-size="14" textLength="127.5" lengthAdjust="spacingAndGlyphs">Single or Few Categories</text>
<text x="1093.8" y="262.8" font-size="14" textLength="87.5" lengthAdjust="spacingAndGlyphs">Many Categories</text>
<text x="1038.4" y="301.8" font-size="14" textLength="61.6" lengthAdjust="spacingAndGlyphs">Few Periods</text>
<text x="896.6" y="346.8" font-size="14" textLength="57" lengthAdjust="spacingAndGlyphs">Over Time</text>
<text x="228.9" y="447.9" font-size="14" textLength="21.8" lengthAdjust="spacingAndGlyphs">Two</text>
<text x="228.9" y="463.8" font-size="14" textLength="46.4" lengthAdjust="spacingAndGlyphs">Variables</text>
<text x="228.9" y="605.7" font-size="14" textLength="28.5" lengthAdjust="spacingAndGlyphs">Three</text>
<text x="228.9" y="620.6" font-size="14" textLength="46.4" lengthAdjust="spacingAndGlyphs">Variables</text>
<text x="974" y="411.5" font-size="14" textLength="31" lengthAdjust="spacingAndGlyphs">Single</text>
<text x="964" y="426.8" font-size="14" textLength="41" lengthAdjust="spacingAndGlyphs">Variable</text>
<text x="1038.8" y="392.4" font-size="14" textLength="20" lengthAdjust="spacingAndGlyphs">Few</text>
<text x="1034.6" y="408.6" font-size="14" textLength="24.2" lengthAdjust="spacingAndGlyphs">Data</text>
<text x="1027.5" y="423.5" font-size="14" textLength="31.3" lengthAdjust="spacingAndGlyphs">Points</text>
<text x="1029.4" y="502.2" font-size="14" textLength="29.4" lengthAdjust="spacingAndGlyphs">Many</text>
<text x="1034.6" y="518.4" font-size="14" textLength="24.2" lengthAdjust="spacingAndGlyphs">Data</text>
<text x="1027.5" y="533.3" font-size="14" textLength="31.3" lengthAdjust="spacingAndGlyphs">Points</text>
<text x="1036.5" y="616.8" font-size="14" textLength="21.5" lengthAdjust="spacingAndGlyphs">Two</text>
<text x="1011.7" y="632.6" font-size="14" textLength="46.3" lengthAdjust="spacingAndGlyphs">Variables</text>
<text x="1029.8" y="726.9" font-size="14" textLength="28.2" lengthAdjust="spacingAndGlyphs">Three</text>
<text x="1011.7" y="742.7" font-size="14" textLength="46.3" lengthAdjust="spacingAndGlyphs">Variables</text>
<text x="336.8" y="686" font-size="14" textLength="52" lengthAdjust="spacingAndGlyphs">Changing</text>
<text x="334.3" y="701.6" font-size="14" textLength="57" lengthAdjust="spacingAndGlyphs">Over Time</text>
<text x="840.7" y="685.6" font-size="14" textLength="28.6" lengthAdjust="spacingAndGlyphs">Static</text>
<text x="219.6" y="742.7" font-size="14" textLength="61.6" lengthAdjust="spacingAndGlyphs">Few Periods</text>
<text x="430.8" y="742.7" font-size="14" textLength="71.3" lengthAdjust="spacingAndGlyphs">Many Periods</text>
<text x="114" y="806.1" font-size="14" textLength="71.1" lengthAdjust="spacingAndGlyphs">Only Relative</text>
<text x="101.6" y="821" font-size="14" textLength="96.4" lengthAdjust="spacingAndGlyphs">Differences Matter</text>
<text x="234.5" y="806.1" font-size="14" textLength="111.8" lengthAdjust="spacingAndGlyphs">Relative and Absolute</text>
<text x="242" y="821" font-size="14" textLength="96.9" lengthAdjust="spacingAndGlyphs">Differences Matter</text>
<text x="396.8" y="806.1" font-size="14" textLength="71.3" lengthAdjust="spacingAndGlyphs">Only Relative</text>
<text x="383.6" y="821" font-size="14" textLength="97.4" lengthAdjust="spacingAndGlyphs">Differences Matter</text>
<text x="517" y="806.1" font-size="14" textLength="112.1" lengthAdjust="spacingAndGlyphs">Relative and Absolute</text>
<text x="524.5" y="821" font-size="14" textLength="96.9" lengthAdjust="spacingAndGlyphs">Differences Matter</text>
<text x="680.3" y="803.2" font-size="14" textLength="66.6" lengthAdjust="spacingAndGlyphs">Simple Share</text>
<text x="693.6" y="818.6" font-size="14" textLength="39.7" lengthAdjust="spacingAndGlyphs">of Total</text>
<text x="811.8" y="803.2" font-size="14" textLength="86.8" lengthAdjust="spacingAndGlyphs">Accumulation or</text>
<text x="803" y="818.6" font-size="14" textLength="104.5" lengthAdjust="spacingAndGlyphs">Subtraction to Total</text>
<text x="964.6" y="803.2" font-size="14" textLength="66.6" lengthAdjust="spacingAndGlyphs">Components</text>
<text x="958.4" y="818.6" font-size="14" textLength="79.6" lengthAdjust="spacingAndGlyphs">of Components</text>
<text x="570" y="485.5" font-size="23.5" textLength="147" lengthAdjust="spacingAndGlyphs">What would you</text>
<text x="587" y="513.6" font-size="23.5" textLength="112" lengthAdjust="spacingAndGlyphs">like to show?</text>
<text x="583.2" y="424.7" font-size="23" textLength="112.8" lengthAdjust="spacingAndGlyphs" style="font-style:italic;font-weight:bold;stroke:none">Comparison</text>
<text x="393.7" y="501.2" font-size="23" textLength="117.2" lengthAdjust="spacingAndGlyphs" style="font-style:italic;font-weight:bold;stroke:none">Relationship</text>
<text x="778.5" y="501.4" font-size="23" textLength="118" lengthAdjust="spacingAndGlyphs" style="font-style:italic;font-weight:bold;stroke:none">Distribution</text>
<text x="581.9" y="595.5" font-size="23" textLength="116" lengthAdjust="spacingAndGlyphs" style="font-style:italic;font-weight:bold;stroke:none">Composition</text>
<text x="1097.1" y="950.9" font-size="14" textLength="156.2" lengthAdjust="spacingAndGlyphs" style="stroke:none" fill="#2c2c36">www.ExtremePresentation.com</text>
<text x="1040.8" y="966.7" font-size="14" textLength="212.5" lengthAdjust="spacingAndGlyphs" style="stroke:none" fill="#2c2c36">© 2009  A. Abela — a.v.abela@gmail.com</text>
</g>
<g font-family='"DejaVu Sans", "Liberation Sans", sans-serif' fill="#000">
<text x="832.2" y="950.8" font-size="10.7" textLength="197.4" lengthAdjust="spacingAndGlyphs">Modified with permision -Doug Hull</text>
<text x="859.1" y="965.6" font-size="10.7" textLength="162.5" lengthAdjust="spacingAndGlyphs">blogs.mathworks.com/videos</text>
<text x="877.7" y="980.8" font-size="10.7" textLength="151.9" lengthAdjust="spacingAndGlyphs">hull@mathworks.com 2009</text>
</g>
</svg></body></html>
